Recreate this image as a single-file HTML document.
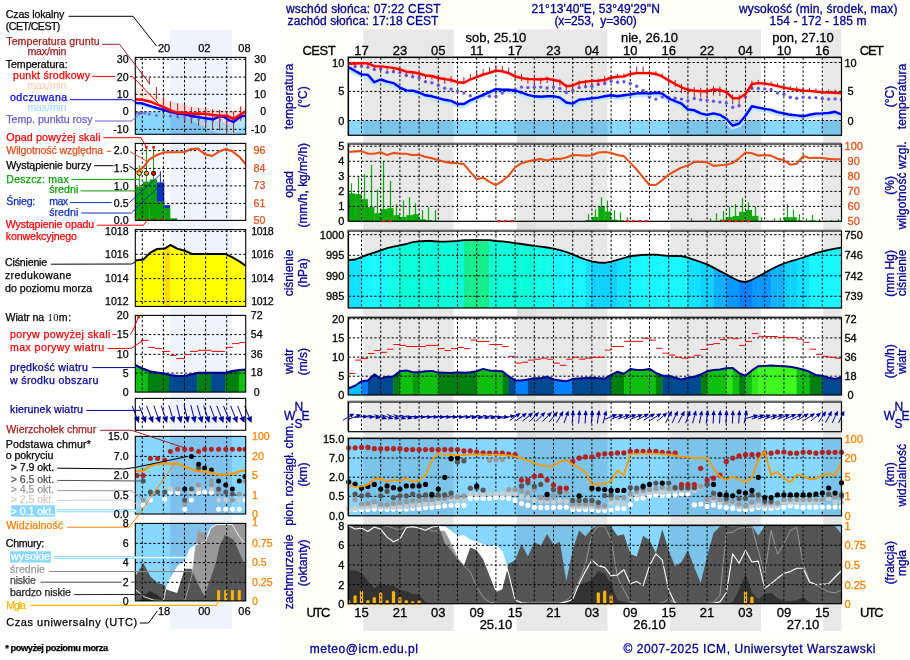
<!DOCTYPE html>
<html lang="pl"><head><meta charset="utf-8"><title>Meteogram ICM</title>
<style>html,body{margin:0;padding:0;background:#fffffa;}body{width:910px;height:660px;overflow:hidden}svg{display:block}</style></head>
<body>
<svg width="910" height="660" viewBox="0 0 910 660" font-family="'Liberation Sans', sans-serif">
<rect width="910" height="660" fill="#fffffa"/>
<rect x="0" y="0" width="278.3" height="660" fill="#ffffff"/>
<rect x="348.5" y="29.5" width="493" height="601.5" fill="#ffffff"/>
<rect x="363.3" y="29.5" width="90.3" height="601.5" fill="#e8e8e8"/>
<rect x="516.6" y="29.5" width="90.9" height="601.5" fill="#e8e8e8"/>
<rect x="670.2" y="29.5" width="90.8" height="601.5" fill="#e8e8e8"/>
<rect x="823.3" y="29.5" width="18.2" height="601.5" fill="#e8e8e8"/>
<rect x="517" y="136" width="19" height="306" fill="#000" opacity="0.03"/>
<rect x="348.5" y="57.5" width="493" height="77.8" fill="#ffffff"/>
<rect x="348.5" y="120.5" width="493" height="14.8" fill="#87d7ff"/>
<rect x="363.3" y="57.5" width="90.3" height="77.8" fill="#e8e8e8" style="mix-blend-mode:multiply"/>
<rect x="516.6" y="57.5" width="90.9" height="77.8" fill="#e8e8e8" style="mix-blend-mode:multiply"/>
<rect x="670.2" y="57.5" width="90.8" height="77.8" fill="#e8e8e8" style="mix-blend-mode:multiply"/>
<rect x="823.3" y="57.5" width="18.2" height="77.8" fill="#e8e8e8" style="mix-blend-mode:multiply"/>
<clipPath id="c1"><rect x="348.5" y="57.5" width="493" height="77.8"/></clipPath><g clip-path="url(#c1)">
<polyline points="348.7,63.7 355.1,63.5 361.5,63.2 367.9,63.3 374.3,66.2 380.7,66.4 387.1,67.1 393.5,67.9 399.9,69.5 406.3,71.7 412.7,72.2 419.1,73.5 425.5,75.5 431.9,76 438.3,78 444.7,79.1 451.1,80 457.5,82.2 463.9,82.7 470.3,79.5 476.7,77.1 483.1,74.6 489.5,72.8 495.9,70.6 502.3,71.3 508.7,73.1 515.1,76.4 521.5,78 527.9,79.1 534.3,79.1 540.7,79.5 547.1,78.6 553.5,80 559.9,81.3 566.3,86.2 572.7,85.5 579.1,82.6 585.5,81.8 591.9,80.9 598.3,80.7 604.7,80 611.1,77.7 617.5,76.8 623.9,76.4 630.3,74 636.7,73.1 643.1,73.1 649.5,73.1 655.9,74 662.3,76.4 668.7,80.4 675.1,84 681.5,87.3 687.9,89.8 694.3,90.7 700.7,91.3 707.1,91.3 713.5,89.5 719.9,90 726.3,92.2 732.7,98.2 739.1,98.2 745.5,94 751.9,84 758.3,83.1 764.7,83.6 771.1,84.6 777.5,86.2 783.9,87.6 790.3,88.9 796.7,89.8 803.1,90.7 809.5,90.9 815.9,91.6 822.3,92.2 828.7,92.5 835.1,92.7 841.5,93.4" fill="none" stroke="#ffd8d8" stroke-width="5" stroke-linejoin="round" opacity="0.7"/>
<polyline points="348.7,68.3 355.1,72 361.5,75.4 367.9,75.9 374.3,83.2 380.7,80.5 387.1,82.7 393.5,84.1 399.9,88.6 406.3,91.4 412.7,91.7 419.1,93.5 425.5,96.3 431.9,97.3 438.3,99.2 444.7,100.8 451.1,101.9 457.5,105 463.9,105 470.3,101.3 476.7,98.6 483.1,95.9 489.5,93.2 495.9,90.1 502.3,90.8 508.7,90.8 515.1,91.7 521.5,93.5 527.9,95.9 534.3,97.3 540.7,97.7 547.1,97.2 553.5,97.2 559.9,98.6 566.3,103.5 572.7,104.6 579.1,100.8 585.5,100.1 591.9,99.2 598.3,98.6 604.7,97.3 611.1,96.3 617.5,97.3 623.9,96.3 630.3,95.5 636.7,94.4 643.1,94.1 649.5,94.6 655.9,93.7 662.3,94.6 668.7,99.5 675.1,102.2 681.5,104.6 687.9,110.4 694.3,111.3 700.7,114.4 707.1,115.8 713.5,114.4 719.9,115.8 726.3,119.8 732.7,126.7 739.1,124.5 745.5,116.7 751.9,107.3 758.3,108.6 764.7,109.9 771.1,110.9 777.5,113.1 783.9,114.4 790.3,115.8 796.7,116.4 803.1,117.3 809.5,115.8 815.9,114.6 822.3,114.4 828.7,114 835.1,112.8 841.5,115.5" fill="none" stroke="#bfe6ff" stroke-width="5.5" stroke-linejoin="round"/>
</g>
<path d="M361.5 57.5V135.3M380.7 57.5V135.3M399.9 57.5V135.3M419.1 57.5V135.3M438.3 57.5V135.3M457.5 57.5V135.3M476.7 57.5V135.3M495.9 57.5V135.3M515.1 57.5V135.3M534.3 57.5V135.3M553.5 57.5V135.3M572.7 57.5V135.3M591.9 57.5V135.3M611.1 57.5V135.3M630.3 57.5V135.3M649.5 57.5V135.3M668.7 57.5V135.3M687.9 57.5V135.3M707.1 57.5V135.3M726.3 57.5V135.3M745.5 57.5V135.3M764.7 57.5V135.3M783.9 57.5V135.3M803.1 57.5V135.3M822.3 57.5V135.3M841.5 57.5V135.3M348.5 62.5H841.5M348.5 91.4H841.5M348.5 120.5H841.5" stroke="#000" stroke-width="1" stroke-dasharray="2.3 2" fill="none"/>
<clipPath id="c2"><rect x="348.5" y="57.5" width="493" height="77.8"/></clipPath><g clip-path="url(#c2)">
<circle cx="355.1" cy="66.8" r="1.7" fill="#6655dd"/>
<circle cx="361.5" cy="66.2" r="1.7" fill="#6655dd"/>
<circle cx="367.9" cy="67.3" r="1.7" fill="#6655dd"/>
<circle cx="374.3" cy="69.5" r="1.7" fill="#6655dd"/>
<circle cx="380.7" cy="69.1" r="1.7" fill="#6655dd"/>
<circle cx="387.1" cy="72.2" r="1.7" fill="#6655dd"/>
<circle cx="393.5" cy="71.7" r="1.7" fill="#6655dd"/>
<circle cx="399.9" cy="72.6" r="1.7" fill="#6655dd"/>
<circle cx="406.3" cy="75.5" r="1.7" fill="#6655dd"/>
<circle cx="412.7" cy="76.8" r="1.7" fill="#6655dd"/>
<circle cx="419.1" cy="78" r="1.7" fill="#6655dd"/>
<circle cx="425.5" cy="81.8" r="1.7" fill="#6655dd"/>
<circle cx="431.9" cy="82.7" r="1.7" fill="#6655dd"/>
<circle cx="438.3" cy="85.3" r="1.7" fill="#6655dd"/>
<circle cx="444.7" cy="88.2" r="1.7" fill="#6655dd"/>
<circle cx="451.1" cy="89.1" r="1.7" fill="#6655dd"/>
<circle cx="457.5" cy="91.3" r="1.7" fill="#6655dd"/>
<circle cx="463.9" cy="93.1" r="1.7" fill="#6655dd"/>
<circle cx="470.3" cy="95.8" r="1.7" fill="#6655dd"/>
<circle cx="476.7" cy="97.6" r="1.7" fill="#6655dd"/>
<circle cx="483.1" cy="95.3" r="1.7" fill="#6655dd"/>
<circle cx="489.5" cy="96.3" r="1.7" fill="#6655dd"/>
<circle cx="495.9" cy="96.3" r="1.7" fill="#6655dd"/>
<circle cx="502.3" cy="93.1" r="1.7" fill="#6655dd"/>
<circle cx="508.7" cy="90.4" r="1.7" fill="#6655dd"/>
<circle cx="515.1" cy="89.1" r="1.7" fill="#6655dd"/>
<circle cx="521.5" cy="87.1" r="1.7" fill="#6655dd"/>
<circle cx="527.9" cy="87.6" r="1.7" fill="#6655dd"/>
<circle cx="534.3" cy="87.3" r="1.7" fill="#6655dd"/>
<circle cx="540.7" cy="87.1" r="1.7" fill="#6655dd"/>
<circle cx="547.1" cy="88" r="1.7" fill="#6655dd"/>
<circle cx="553.5" cy="87.1" r="1.7" fill="#6655dd"/>
<circle cx="559.9" cy="88.5" r="1.7" fill="#6655dd"/>
<circle cx="566.3" cy="92.5" r="1.7" fill="#6655dd"/>
<circle cx="572.7" cy="90.4" r="1.7" fill="#6655dd"/>
<circle cx="579.1" cy="87.6" r="1.7" fill="#6655dd"/>
<circle cx="585.5" cy="86.7" r="1.7" fill="#6655dd"/>
<circle cx="591.9" cy="86.2" r="1.7" fill="#6655dd"/>
<circle cx="598.3" cy="84.4" r="1.7" fill="#6655dd"/>
<circle cx="604.7" cy="83.5" r="1.7" fill="#6655dd"/>
<circle cx="611.1" cy="81.3" r="1.7" fill="#6655dd"/>
<circle cx="617.5" cy="82.2" r="1.7" fill="#6655dd"/>
<circle cx="623.9" cy="81.7" r="1.7" fill="#6655dd"/>
<circle cx="630.3" cy="83.5" r="1.7" fill="#6655dd"/>
<circle cx="636.7" cy="86.2" r="1.7" fill="#6655dd"/>
<circle cx="643.1" cy="90.4" r="1.7" fill="#6655dd"/>
<circle cx="649.5" cy="97.2" r="1.7" fill="#6655dd"/>
<circle cx="655.9" cy="99.1" r="1.7" fill="#6655dd"/>
<circle cx="662.3" cy="97.1" r="1.7" fill="#6655dd"/>
<circle cx="668.7" cy="97.1" r="1.7" fill="#6655dd"/>
<circle cx="675.1" cy="98.2" r="1.7" fill="#6655dd"/>
<circle cx="681.5" cy="99.1" r="1.7" fill="#6655dd"/>
<circle cx="687.9" cy="100.7" r="1.7" fill="#6655dd"/>
<circle cx="694.3" cy="98.5" r="1.7" fill="#6655dd"/>
<circle cx="700.7" cy="99.8" r="1.7" fill="#6655dd"/>
<circle cx="707.1" cy="100.3" r="1.7" fill="#6655dd"/>
<circle cx="713.5" cy="101.2" r="1.7" fill="#6655dd"/>
<circle cx="719.9" cy="102.1" r="1.7" fill="#6655dd"/>
<circle cx="726.3" cy="103.1" r="1.7" fill="#6655dd"/>
<circle cx="732.7" cy="107.2" r="1.7" fill="#6655dd"/>
<circle cx="739.1" cy="105.8" r="1.7" fill="#6655dd"/>
<circle cx="745.5" cy="97.1" r="1.7" fill="#6655dd"/>
<circle cx="751.9" cy="88.2" r="1.7" fill="#6655dd"/>
<circle cx="758.3" cy="88.5" r="1.7" fill="#6655dd"/>
<circle cx="764.7" cy="88.9" r="1.7" fill="#6655dd"/>
<circle cx="771.1" cy="89.5" r="1.7" fill="#6655dd"/>
<circle cx="777.5" cy="93.1" r="1.7" fill="#6655dd"/>
<circle cx="783.9" cy="94.5" r="1.7" fill="#6655dd"/>
<circle cx="790.3" cy="97.2" r="1.7" fill="#6655dd"/>
<circle cx="796.7" cy="98.2" r="1.7" fill="#6655dd"/>
<circle cx="803.1" cy="97.1" r="1.7" fill="#6655dd"/>
<circle cx="809.5" cy="97.6" r="1.7" fill="#6655dd"/>
<circle cx="815.9" cy="97.6" r="1.7" fill="#6655dd"/>
<circle cx="822.3" cy="98.5" r="1.7" fill="#6655dd"/>
<circle cx="828.7" cy="99.1" r="1.7" fill="#6655dd"/>
<circle cx="835.1" cy="98.9" r="1.7" fill="#6655dd"/>
<circle cx="841.5" cy="99.8" r="1.7" fill="#6655dd"/>
<polyline points="348.7,67.3 355.1,71 361.5,74.4 367.9,74.9 374.3,82.2 380.7,79.5 387.1,81.7 393.5,83.1 399.9,87.6 406.3,90.4 412.7,90.7 419.1,92.5 425.5,95.3 431.9,96.3 438.3,98.2 444.7,99.8 451.1,100.9 457.5,104 463.9,104 470.3,100.3 476.7,97.6 483.1,94.9 489.5,92.2 495.9,89.1 502.3,89.8 508.7,89.8 515.1,90.7 521.5,92.5 527.9,94.9 534.3,96.3 540.7,96.7 547.1,96.2 553.5,96.2 559.9,97.6 566.3,102.5 572.7,103.6 579.1,99.8 585.5,99.1 591.9,98.2 598.3,97.6 604.7,96.3 611.1,95.3 617.5,96.3 623.9,95.3 630.3,94.5 636.7,93.4 643.1,93.1 649.5,93.6 655.9,92.7 662.3,93.6 668.7,98.5 675.1,101.2 681.5,103.6 687.9,109.4 694.3,110.3 700.7,113.4 707.1,114.8 713.5,113.4 719.9,114.8 726.3,118.8 732.7,125.7 739.1,123.5 745.5,115.7 751.9,106.3 758.3,107.6 764.7,108.9 771.1,109.9 777.5,112.1 783.9,113.4 790.3,114.8 796.7,115.4 803.1,116.3 809.5,114.8 815.9,113.6 822.3,113.4 828.7,113 835.1,111.8 841.5,114.5" fill="none" stroke="#0000ff" stroke-width="2.4" stroke-linejoin="round"/>
<polyline points="348.7,63.7 355.1,63.5 361.5,63.2 367.9,63.3 374.3,66.2 380.7,66.4 387.1,67.1 393.5,67.9 399.9,69.5 406.3,71.7 412.7,72.2 419.1,73.5 425.5,75.5 431.9,76 438.3,78 444.7,79.1 451.1,80 457.5,82.2 463.9,82.7 470.3,79.5 476.7,77.1 483.1,74.6 489.5,72.8 495.9,70.6 502.3,71.3 508.7,73.1 515.1,76.4 521.5,78 527.9,79.1 534.3,79.1 540.7,79.5 547.1,78.6 553.5,80 559.9,81.3 566.3,86.2 572.7,85.5 579.1,82.6 585.5,81.8 591.9,80.9 598.3,80.7 604.7,80 611.1,77.7 617.5,76.8 623.9,76.4 630.3,74 636.7,73.1 643.1,73.1 649.5,73.1 655.9,74 662.3,76.4 668.7,80.4 675.1,84 681.5,87.3 687.9,89.8 694.3,90.7 700.7,91.3 707.1,91.3 713.5,89.5 719.9,90 726.3,92.2 732.7,98.2 739.1,98.2 745.5,94 751.9,84 758.3,83.1 764.7,83.6 771.1,84.6 777.5,86.2 783.9,87.6 790.3,88.9 796.7,89.8 803.1,90.7 809.5,90.9 815.9,91.6 822.3,92.2 828.7,92.5 835.1,92.7 841.5,93.4" fill="none" stroke="#ff0000" stroke-width="2.4" stroke-linejoin="round"/>
<path d="M355.1 63.5V66.7M361.5 63.2V66.4M367.9 63.3V66.5M374.3 66.2V69.4M380.7 66.4V69.6M387.1 67.1V70.3M393.5 67.4V71.4M399.9 69V73M406.3 71.2V75.2M412.7 71.7V75.7M419.1 73V77M425.5 75V79M431.9 75.5V79.5M438.3 76V82.5M444.7 77.1V83.6M451.1 76V83M457.5 78.2V85.2M463.9 77.2V83.2M470.3 74V80M476.7 71.6V77.6M483.1 69.1V75.1M489.5 67.3V73.3M495.9 65.1V71.1M502.3 65.8V71.8M508.7 67.6V73.6M515.1 72.4V79.4M521.5 74V81M527.9 77.1V83.6M534.3 77.1V83.6M540.7 77.5V84M547.1 76.6V83.1M553.5 78V84.5M559.9 79.3V85.8M566.3 84.2V90.7M572.7 83.5V90M579.1 80.6V87.1M585.5 79.8V86.3M591.9 78.9V85.4M598.3 78.7V85.2M604.7 76V83M611.1 74.9V79.2M617.5 74V78.3M623.9 73.6V77.9M630.3 71.2V75.5M636.7 66.6V74.1M643.1 66.6V74.1M649.5 70.3V74.6M655.9 71.2V75.5M662.3 73.6V77.9M668.7 76.4V83.4M675.1 80V87M681.5 83.8V93.3M687.9 86.3V95.8M694.3 87.2V96.7M700.7 87.8V97.3M707.1 87.8V97.3M713.5 86V95.5M719.9 86.5V96M726.3 88.7V98.2M732.7 94.7V104.2M739.1 94.7V104.2M745.5 90.5V100M751.9 80.5V90M758.3 79.9V83.6M764.7 80.4V84.1M771.1 81.4V85.1M777.5 83V86.7M783.9 84.4V88.1M790.3 85.7V89.4M796.7 86.6V90.3M803.1 87.5V91.2M809.5 87.7V91.4M815.9 88.4V92.1M822.3 89V92.7M828.7 89.3V93M835.1 89.5V93.2M841.5 90.2V93.9" stroke="#b02020" stroke-width="1" fill="none"/>
</g>
<rect x="348.5" y="57.5" width="493" height="77.8" fill="none" stroke="#000" stroke-width="1.2"/>
<path d="M347.5 135.3V56.5H841.5" fill="none" stroke="#777" stroke-width="1" opacity="0.8"/>
<rect x="348.5" y="144" width="493" height="77.3" fill="#ffffff"/>
<rect x="363.3" y="144" width="90.3" height="77.3" fill="#e8e8e8"/>
<rect x="516.6" y="144" width="90.9" height="77.3" fill="#e8e8e8"/>
<rect x="670.2" y="144" width="90.8" height="77.3" fill="#e8e8e8"/>
<rect x="823.3" y="144" width="18.2" height="77.3" fill="#e8e8e8"/>
<clipPath id="c3"><rect x="348.5" y="144" width="493" height="77.3"/></clipPath><g clip-path="url(#c3)">
<rect x="348.7" y="193.3" width="6.5" height="28" fill="#0aaa0a"/>
<rect x="355.1" y="194.1" width="6.5" height="27.2" fill="#0aaa0a"/>
<rect x="361.5" y="199.2" width="6.5" height="22.1" fill="#0aaa0a"/>
<rect x="367.9" y="207" width="6.5" height="14.3" fill="#0aaa0a"/>
<rect x="374.3" y="213.2" width="6.5" height="8.1" fill="#0aaa0a"/>
<rect x="380.7" y="209.1" width="6.5" height="12.2" fill="#0aaa0a"/>
<rect x="387.1" y="208.2" width="6.5" height="13.1" fill="#0aaa0a"/>
<rect x="393.5" y="215.1" width="6.5" height="6.2" fill="#0aaa0a"/>
<rect x="399.9" y="216.9" width="6.5" height="4.4" fill="#0aaa0a"/>
<rect x="406.3" y="215.1" width="6.5" height="6.2" fill="#0aaa0a"/>
<rect x="412.7" y="214.2" width="6.5" height="7.1" fill="#0aaa0a"/>
<rect x="419.1" y="219.2" width="6.5" height="2.1" fill="#0aaa0a"/>
<rect x="425.5" y="220.1" width="6.5" height="1.2" fill="#0aaa0a"/>
<rect x="431.9" y="220.8" width="6.5" height="0.5" fill="#0aaa0a"/>
<rect x="585.5" y="220.1" width="6.5" height="1.2" fill="#0aaa0a"/>
<rect x="591.9" y="216.9" width="6.5" height="4.4" fill="#0aaa0a"/>
<rect x="598.3" y="206.4" width="6.5" height="14.9" fill="#0aaa0a"/>
<rect x="604.7" y="211.5" width="6.5" height="9.8" fill="#0aaa0a"/>
<rect x="611.1" y="219.6" width="6.5" height="1.7" fill="#0aaa0a"/>
<rect x="617.5" y="220.4" width="6.5" height="0.9" fill="#0aaa0a"/>
<rect x="719.9" y="219.6" width="6.5" height="1.7" fill="#0aaa0a"/>
<rect x="726.3" y="217.2" width="6.5" height="4.1" fill="#0aaa0a"/>
<rect x="732.7" y="216" width="6.5" height="5.3" fill="#0aaa0a"/>
<rect x="739.1" y="211.8" width="6.5" height="9.5" fill="#0aaa0a"/>
<rect x="745.5" y="210" width="6.5" height="11.3" fill="#0aaa0a"/>
<rect x="751.9" y="215.9" width="6.5" height="5.4" fill="#0aaa0a"/>
<rect x="783.9" y="217.2" width="6.5" height="4.1" fill="#0aaa0a"/>
<rect x="790.3" y="217.2" width="6.5" height="4.1" fill="#0aaa0a"/>
<rect x="796.7" y="220.4" width="6.5" height="0.9" fill="#0aaa0a"/>
<rect x="809.5" y="220.4" width="6.5" height="0.9" fill="#0aaa0a"/>
<path d="M351.5 221.3V183.3M358.5 221.3V176.4M364.5 221.3V174.3M371.5 221.3V165.1M377.5 221.3V189.4M383.5 221.3V161.3M390.5 221.3V181M396.5 221.3V204.2M403.5 221.3V200.4M409.5 221.3V197.3M415.5 221.3V203.3M422.5 221.3V210M428.5 221.3V207.3M435.5 221.3V210M588.5 221.3V214.2M595.5 221.3V209.4M601.5 221.3V197.3M607.5 221.3V200.4M614.5 221.3V210.3M620.5 221.3V212.4M627.5 221.3V217.2M691.5 221.3V218.3M710.5 221.3V218.3M716.5 221.3V213.2M723.5 221.3V210.9M729.5 221.3V206.9M735.5 221.3V204M742.5 221.3V198.2M748.5 221.3V202.2M755.5 221.3V206.4M761.5 221.3V217.2M767.5 221.3V220.4M774.5 221.3V218.3M780.5 221.3V217.8M787.5 221.3V204.2M793.5 221.3V209.4M799.5 221.3V214.2M806.5 221.3V218.3M812.5 221.3V215.1M819.5 221.3V219M831.5 221.3V220.1M838.5 221.3V219" stroke="#0cac0c" stroke-width="1.25" fill="none"/>
</g>
<path d="M361.5 144V221.3M380.7 144V221.3M399.9 144V221.3M419.1 144V221.3M438.3 144V221.3M457.5 144V221.3M476.7 144V221.3M495.9 144V221.3M515.1 144V221.3M534.3 144V221.3M553.5 144V221.3M572.7 144V221.3M591.9 144V221.3M611.1 144V221.3M630.3 144V221.3M649.5 144V221.3M668.7 144V221.3M687.9 144V221.3M707.1 144V221.3M726.3 144V221.3M745.5 144V221.3M764.7 144V221.3M783.9 144V221.3M803.1 144V221.3M822.3 144V221.3M841.5 144V221.3M348.5 146.2H841.5M348.5 161.3H841.5M348.5 176.3H841.5M348.5 191.4H841.5M348.5 206.4H841.5" stroke="#000" stroke-width="1" stroke-dasharray="2.3 2" fill="none"/>
<clipPath id="c4"><rect x="348.5" y="144" width="493" height="77.3"/></clipPath><g clip-path="url(#c4)">
<polyline points="348.7,152 355.1,151.4 361.5,151.1 367.9,153.8 374.3,153.8 380.7,152.3 387.1,155.1 393.5,152.9 399.9,153.8 406.3,153.8 412.7,155.1 419.1,154.7 425.5,156.9 431.9,158.3 438.3,160.1 444.7,161.9 451.1,162.9 457.5,163.2 463.9,164.1 470.3,171.9 476.7,179.2 483.1,177.7 489.5,181.9 495.9,185.2 502.3,181 508.7,175.5 515.1,167.4 521.5,163.2 527.9,161.4 534.3,160.1 540.7,158.9 547.1,160.5 553.5,158.7 559.9,158.9 566.3,157.4 572.7,155.1 579.1,155.2 585.5,155.6 591.9,155.2 598.3,152.5 604.7,152 611.1,152.9 617.5,155.1 623.9,156.1 630.3,162.9 636.7,169.6 643.1,177.4 649.5,185 655.9,185 662.3,180.1 668.7,174.6 675.1,171 681.5,167.4 687.9,165.6 694.3,161.9 700.7,161.9 707.1,162.3 713.5,165.9 719.9,165.2 726.3,164.7 732.7,162.9 739.1,158.3 745.5,152.5 751.9,153.2 758.3,155.6 764.7,155.1 771.1,155.6 777.5,158.7 783.9,160.1 790.3,164.7 796.7,163.8 803.1,156.1 809.5,158 815.9,157.8 822.3,158 828.7,158.9 835.1,159.2 841.5,159.2" fill="none" stroke="#e8501a" stroke-width="2.1" stroke-linejoin="round"/>
</g>
<rect x="348.5" y="144" width="493" height="77.3" fill="none" stroke="#000" stroke-width="1.2"/>
<path d="M347.5 221.3V143H841.5" fill="none" stroke="#777" stroke-width="1" opacity="0.8"/>
<rect x="382.4" y="220" width="3" height="2.2" fill="#e01818"/>
<rect x="388.8" y="220" width="3" height="2.2" fill="#e01818"/>
<rect x="497.6" y="220" width="3" height="2.2" fill="#e01818"/>
<rect x="504" y="220" width="3" height="2.2" fill="#e01818"/>
<rect x="510.4" y="220" width="3" height="2.2" fill="#e01818"/>
<rect x="625.6" y="220" width="3" height="2.2" fill="#e01818"/>
<rect x="632" y="220" width="3" height="2.2" fill="#e01818"/>
<rect x="638.4" y="220" width="3" height="2.2" fill="#e01818"/>
<rect x="644.8" y="220" width="3" height="2.2" fill="#e01818"/>
<rect x="721.6" y="220" width="3" height="2.2" fill="#e01818"/>
<rect x="728" y="220" width="3" height="2.2" fill="#e01818"/>
<rect x="734.4" y="220" width="3" height="2.2" fill="#e01818"/>
<rect x="740.8" y="220" width="3" height="2.2" fill="#e01818"/>
<rect x="747.2" y="220" width="3" height="2.2" fill="#e01818"/>
<rect x="348.5" y="231" width="493" height="77" fill="#ffffff"/>
<rect x="363.3" y="231" width="90.3" height="77" fill="#e8e8e8"/>
<rect x="516.6" y="231" width="90.9" height="77" fill="#e8e8e8"/>
<rect x="670.2" y="231" width="90.8" height="77" fill="#e8e8e8"/>
<rect x="823.3" y="231" width="18.2" height="77" fill="#e8e8e8"/>
<clipPath id="c5"><rect x="348.5" y="231" width="493" height="77"/></clipPath><g clip-path="url(#c5)">
<clipPath id="pp"><polygon points="348.5,308.0 348.7,260.2 355.1,259.5 361.5,257.1 367.9,254.7 374.3,252.6 380.7,250.4 387.1,248.2 393.5,246.6 399.9,245.3 406.3,244 412.7,242.2 419.1,241.3 425.5,241 431.9,241 438.3,241.7 444.7,241.7 451.1,241.3 457.5,240.8 463.9,240.1 470.3,240.1 476.7,239.9 483.1,240.1 489.5,240.2 495.9,241 502.3,241.3 508.7,242.1 515.1,243.1 521.5,244 527.9,245 534.3,245.9 540.7,246.6 547.1,247.5 553.5,248.6 559.9,250.2 566.3,252 572.7,254.4 579.1,257.1 585.5,259.5 591.9,261.3 598.3,262.5 604.7,262.9 611.1,261.6 617.5,259.8 623.9,258 630.3,256.2 636.7,255.5 643.1,254.9 649.5,254.7 655.9,254.7 662.3,255.3 668.7,255.8 675.1,256 681.5,256.2 687.9,257.6 694.3,259.8 700.7,262 707.1,264.4 713.5,267.6 719.9,271.1 726.3,274.3 732.7,278 739.1,281 745.5,282.1 751.9,279.8 758.3,276.5 764.7,272.9 771.1,269.3 777.5,266.2 783.9,263.5 790.3,261.3 796.7,259.5 803.1,257.5 809.5,255.3 815.9,253.1 822.3,251.3 828.7,249.9 835.1,248.6 841.5,247.7 841.5,308.0"/></clipPath><g clip-path="url(#pp)">
<rect x="348.7" y="231" width="6.7" height="77" fill="#10e2ff"/>
<rect x="355.1" y="231" width="6.7" height="77" fill="#10e2ff"/>
<rect x="361.5" y="231" width="6.7" height="77" fill="#18f6ff"/>
<rect x="367.9" y="231" width="6.7" height="77" fill="#18f6ff"/>
<rect x="374.3" y="231" width="6.7" height="77" fill="#18f6ff"/>
<rect x="380.7" y="231" width="6.7" height="77" fill="#18f6ff"/>
<rect x="387.1" y="231" width="6.7" height="77" fill="#10ffe8"/>
<rect x="393.5" y="231" width="6.7" height="77" fill="#10ffe8"/>
<rect x="399.9" y="231" width="6.7" height="77" fill="#08ffd8"/>
<rect x="406.3" y="231" width="6.7" height="77" fill="#08ffd8"/>
<rect x="412.7" y="231" width="6.7" height="77" fill="#08ffd8"/>
<rect x="419.1" y="231" width="6.7" height="77" fill="#08ffd8"/>
<rect x="425.5" y="231" width="6.7" height="77" fill="#08ffd8"/>
<rect x="431.9" y="231" width="6.7" height="77" fill="#08ffd8"/>
<rect x="438.3" y="231" width="6.7" height="77" fill="#08ffd8"/>
<rect x="444.7" y="231" width="6.7" height="77" fill="#08ffd8"/>
<rect x="451.1" y="231" width="6.7" height="77" fill="#08ffd8"/>
<rect x="457.5" y="231" width="6.7" height="77" fill="#08ffd8"/>
<rect x="463.9" y="231" width="6.7" height="77" fill="#14ee8c"/>
<rect x="470.3" y="231" width="6.7" height="77" fill="#14ee8c"/>
<rect x="476.7" y="231" width="6.7" height="77" fill="#14ee8c"/>
<rect x="483.1" y="231" width="6.7" height="77" fill="#14ee8c"/>
<rect x="489.5" y="231" width="6.7" height="77" fill="#08ffd8"/>
<rect x="495.9" y="231" width="6.7" height="77" fill="#08ffd8"/>
<rect x="502.3" y="231" width="6.7" height="77" fill="#08ffd8"/>
<rect x="508.7" y="231" width="6.7" height="77" fill="#08ffd8"/>
<rect x="515.1" y="231" width="6.7" height="77" fill="#08ffd8"/>
<rect x="521.5" y="231" width="6.7" height="77" fill="#08ffd8"/>
<rect x="527.9" y="231" width="6.7" height="77" fill="#08ffd8"/>
<rect x="534.3" y="231" width="6.7" height="77" fill="#10ffe8"/>
<rect x="540.7" y="231" width="6.7" height="77" fill="#10ffe8"/>
<rect x="547.1" y="231" width="6.7" height="77" fill="#10ffe8"/>
<rect x="553.5" y="231" width="6.7" height="77" fill="#18f6ff"/>
<rect x="559.9" y="231" width="6.7" height="77" fill="#18f6ff"/>
<rect x="566.3" y="231" width="6.7" height="77" fill="#18f6ff"/>
<rect x="572.7" y="231" width="6.7" height="77" fill="#18f6ff"/>
<rect x="579.1" y="231" width="6.7" height="77" fill="#18f6ff"/>
<rect x="585.5" y="231" width="6.7" height="77" fill="#10e2ff"/>
<rect x="591.9" y="231" width="6.7" height="77" fill="#10d2ff"/>
<rect x="598.3" y="231" width="6.7" height="77" fill="#10d2ff"/>
<rect x="604.7" y="231" width="6.7" height="77" fill="#10d2ff"/>
<rect x="611.1" y="231" width="6.7" height="77" fill="#10d2ff"/>
<rect x="617.5" y="231" width="6.7" height="77" fill="#10e2ff"/>
<rect x="623.9" y="231" width="6.7" height="77" fill="#10e2ff"/>
<rect x="630.3" y="231" width="6.7" height="77" fill="#18f6ff"/>
<rect x="636.7" y="231" width="6.7" height="77" fill="#18f6ff"/>
<rect x="643.1" y="231" width="6.7" height="77" fill="#18f6ff"/>
<rect x="649.5" y="231" width="6.7" height="77" fill="#18f6ff"/>
<rect x="655.9" y="231" width="6.7" height="77" fill="#18f6ff"/>
<rect x="662.3" y="231" width="6.7" height="77" fill="#18f6ff"/>
<rect x="668.7" y="231" width="6.7" height="77" fill="#18f6ff"/>
<rect x="675.1" y="231" width="6.7" height="77" fill="#18f6ff"/>
<rect x="681.5" y="231" width="6.7" height="77" fill="#18f6ff"/>
<rect x="687.9" y="231" width="6.7" height="77" fill="#10e2ff"/>
<rect x="694.3" y="231" width="6.7" height="77" fill="#10e2ff"/>
<rect x="700.7" y="231" width="6.7" height="77" fill="#10d2ff"/>
<rect x="707.1" y="231" width="6.7" height="77" fill="#10d2ff"/>
<rect x="713.5" y="231" width="6.7" height="77" fill="#10b2ff"/>
<rect x="719.9" y="231" width="6.7" height="77" fill="#10b2ff"/>
<rect x="726.3" y="231" width="6.7" height="77" fill="#0898ff"/>
<rect x="732.7" y="231" width="6.7" height="77" fill="#0898ff"/>
<rect x="739.1" y="231" width="6.7" height="77" fill="#0880ff"/>
<rect x="745.5" y="231" width="6.7" height="77" fill="#0880ff"/>
<rect x="751.9" y="231" width="6.7" height="77" fill="#0898ff"/>
<rect x="758.3" y="231" width="6.7" height="77" fill="#0898ff"/>
<rect x="764.7" y="231" width="6.7" height="77" fill="#0898ff"/>
<rect x="771.1" y="231" width="6.7" height="77" fill="#10b2ff"/>
<rect x="777.5" y="231" width="6.7" height="77" fill="#10b2ff"/>
<rect x="783.9" y="231" width="6.7" height="77" fill="#10d2ff"/>
<rect x="790.3" y="231" width="6.7" height="77" fill="#10d2ff"/>
<rect x="796.7" y="231" width="6.7" height="77" fill="#10e2ff"/>
<rect x="803.1" y="231" width="6.7" height="77" fill="#10e2ff"/>
<rect x="809.5" y="231" width="6.7" height="77" fill="#18f6ff"/>
<rect x="815.9" y="231" width="6.7" height="77" fill="#18f6ff"/>
<rect x="822.3" y="231" width="6.7" height="77" fill="#18f6ff"/>
<rect x="828.7" y="231" width="6.7" height="77" fill="#18f6ff"/>
<rect x="835.1" y="231" width="6.7" height="77" fill="#18f6ff"/>
<rect x="841.5" y="231" width="6.7" height="77" fill="#10ffe8"/>
</g>
</g>
<path d="M361.5 231V308M380.7 231V308M399.9 231V308M419.1 231V308M438.3 231V308M457.5 231V308M476.7 231V308M495.9 231V308M515.1 231V308M534.3 231V308M553.5 231V308M572.7 231V308M591.9 231V308M611.1 231V308M630.3 231V308M649.5 231V308M668.7 231V308M687.9 231V308M707.1 231V308M726.3 231V308M745.5 231V308M764.7 231V308M783.9 231V308M803.1 231V308M822.3 231V308M841.5 231V308M348.5 234.7H841.5M348.5 255.3H841.5M348.5 275.8H841.5M348.5 296.3H841.5" stroke="#000" stroke-width="1" stroke-dasharray="2.3 2" fill="none"/>
<clipPath id="c6"><rect x="348.5" y="231" width="493" height="77"/></clipPath><g clip-path="url(#c6)">
<polyline points="348.7,260.2 355.1,259.5 361.5,257.1 367.9,254.7 374.3,252.6 380.7,250.4 387.1,248.2 393.5,246.6 399.9,245.3 406.3,244 412.7,242.2 419.1,241.3 425.5,241 431.9,241 438.3,241.7 444.7,241.7 451.1,241.3 457.5,240.8 463.9,240.1 470.3,240.1 476.7,239.9 483.1,240.1 489.5,240.2 495.9,241 502.3,241.3 508.7,242.1 515.1,243.1 521.5,244 527.9,245 534.3,245.9 540.7,246.6 547.1,247.5 553.5,248.6 559.9,250.2 566.3,252 572.7,254.4 579.1,257.1 585.5,259.5 591.9,261.3 598.3,262.5 604.7,262.9 611.1,261.6 617.5,259.8 623.9,258 630.3,256.2 636.7,255.5 643.1,254.9 649.5,254.7 655.9,254.7 662.3,255.3 668.7,255.8 675.1,256 681.5,256.2 687.9,257.6 694.3,259.8 700.7,262 707.1,264.4 713.5,267.6 719.9,271.1 726.3,274.3 732.7,278 739.1,281 745.5,282.1 751.9,279.8 758.3,276.5 764.7,272.9 771.1,269.3 777.5,266.2 783.9,263.5 790.3,261.3 796.7,259.5 803.1,257.5 809.5,255.3 815.9,253.1 822.3,251.3 828.7,249.9 835.1,248.6 841.5,247.7" fill="none" stroke="#000" stroke-width="1.8" stroke-linejoin="round"/>
</g>
<rect x="348.5" y="231" width="493" height="77" fill="none" stroke="#000" stroke-width="1.2"/>
<path d="M347.5 308V230H841.5" fill="none" stroke="#777" stroke-width="1" opacity="0.8"/>
<rect x="348.5" y="317.7" width="493" height="77.3" fill="#ffffff"/>
<rect x="363.3" y="317.7" width="90.3" height="77.3" fill="#e8e8e8"/>
<rect x="516.6" y="317.7" width="90.9" height="77.3" fill="#e8e8e8"/>
<rect x="670.2" y="317.7" width="90.8" height="77.3" fill="#e8e8e8"/>
<rect x="823.3" y="317.7" width="18.2" height="77.3" fill="#e8e8e8"/>
<clipPath id="c7"><rect x="348.5" y="317.7" width="493" height="77.3"/></clipPath><g clip-path="url(#c7)">
<clipPath id="wp"><polygon points="348.5,395.0 348.7,388.2 355.1,385.8 361.5,381.3 367.9,380.4 374.3,374.4 380.7,378.6 387.1,376.7 393.5,376.4 399.9,371.3 406.3,370.4 412.7,372.2 419.1,372.2 425.5,371.3 431.9,370.9 438.3,372.6 444.7,372.8 451.1,373.1 457.5,372.2 463.9,372.8 470.3,372.2 476.7,371.3 483.1,368.9 489.5,370.4 495.9,370.9 502.3,371.3 508.7,376.2 515.1,380.4 521.5,380.4 527.9,379.5 534.3,378.2 540.7,378.2 547.1,376.7 553.5,379.5 559.9,380.4 566.3,381.3 572.7,379.1 579.1,378.6 585.5,378 591.9,377.7 598.3,378.2 604.7,378.6 611.1,374.9 617.5,371.7 623.9,373.7 630.3,369.1 636.7,370 643.1,370 649.5,368.9 655.9,372.8 662.3,375.5 668.7,375.8 675.1,377.7 681.5,379.5 687.9,377.7 694.3,376.7 700.7,374.4 707.1,371.3 713.5,369.9 719.9,369.5 726.3,368.2 732.7,368 739.1,373.1 745.5,375.8 751.9,370.4 758.3,366.2 764.7,365.9 771.1,365.5 777.5,365.9 783.9,366.2 790.3,366.8 796.7,368 803.1,369.5 809.5,371.8 815.9,374.9 822.3,375.8 828.7,377.7 835.1,378.9 841.5,377.3 841.5,395.0"/></clipPath><g clip-path="url(#wp)">
<rect x="348.7" y="317.7" width="13.1" height="77.3" fill="#00c0ff"/>
<rect x="361.5" y="317.7" width="6.7" height="77.3" fill="#0080ff"/>
<rect x="367.9" y="317.7" width="25.9" height="77.3" fill="#004890"/>
<rect x="393.5" y="317.7" width="6.7" height="77.3" fill="#008010"/>
<rect x="399.9" y="317.7" width="13.1" height="77.3" fill="#10c010"/>
<rect x="412.7" y="317.7" width="6.7" height="77.3" fill="#009c10"/>
<rect x="419.1" y="317.7" width="19.5" height="77.3" fill="#10c010"/>
<rect x="438.3" y="317.7" width="38.7" height="77.3" fill="#008010"/>
<rect x="476.7" y="317.7" width="25.9" height="77.3" fill="#10c010"/>
<rect x="502.3" y="317.7" width="6.7" height="77.3" fill="#008010"/>
<rect x="508.7" y="317.7" width="6.7" height="77.3" fill="#004890"/>
<rect x="515.1" y="317.7" width="13.1" height="77.3" fill="#0080ff"/>
<rect x="527.9" y="317.7" width="25.9" height="77.3" fill="#004890"/>
<rect x="553.5" y="317.7" width="19.5" height="77.3" fill="#0080ff"/>
<rect x="572.7" y="317.7" width="38.7" height="77.3" fill="#004890"/>
<rect x="611.1" y="317.7" width="13.1" height="77.3" fill="#008010"/>
<rect x="623.9" y="317.7" width="32.3" height="77.3" fill="#10c010"/>
<rect x="655.9" y="317.7" width="6.7" height="77.3" fill="#008010"/>
<rect x="662.3" y="317.7" width="38.7" height="77.3" fill="#004890"/>
<rect x="700.7" y="317.7" width="6.7" height="77.3" fill="#008010"/>
<rect x="707.1" y="317.7" width="19.5" height="77.3" fill="#10c010"/>
<rect x="726.3" y="317.7" width="6.7" height="77.3" fill="#30e818"/>
<rect x="732.7" y="317.7" width="6.7" height="77.3" fill="#10c010"/>
<rect x="739.1" y="317.7" width="6.7" height="77.3" fill="#008010"/>
<rect x="745.5" y="317.7" width="6.7" height="77.3" fill="#10c010"/>
<rect x="751.9" y="317.7" width="6.7" height="77.3" fill="#30e818"/>
<rect x="758.3" y="317.7" width="38.7" height="77.3" fill="#40f820"/>
<rect x="796.7" y="317.7" width="13.1" height="77.3" fill="#10c010"/>
<rect x="809.5" y="317.7" width="13.1" height="77.3" fill="#008010"/>
<rect x="822.3" y="317.7" width="20.1" height="77.3" fill="#004890"/>
</g>
</g>
<path d="M361.5 317.7V395M380.7 317.7V395M399.9 317.7V395M419.1 317.7V395M438.3 317.7V395M457.5 317.7V395M476.7 317.7V395M495.9 317.7V395M515.1 317.7V395M534.3 317.7V395M553.5 317.7V395M572.7 317.7V395M591.9 317.7V395M611.1 317.7V395M630.3 317.7V395M649.5 317.7V395M668.7 317.7V395M687.9 317.7V395M707.1 317.7V395M726.3 317.7V395M745.5 317.7V395M764.7 317.7V395M783.9 317.7V395M803.1 317.7V395M822.3 317.7V395M841.5 317.7V395M348.5 318.8H841.5M348.5 337.9H841.5M348.5 357.1H841.5M348.5 376.2H841.5" stroke="#000" stroke-width="1" stroke-dasharray="2.3 2" fill="none"/>
<clipPath id="c8"><rect x="348.5" y="317.7" width="493" height="77.3"/></clipPath><g clip-path="url(#c8)">
<polyline points="348.7,388.2 355.1,385.8 361.5,381.3 367.9,380.4 374.3,374.4 380.7,378.6 387.1,376.7 393.5,376.4 399.9,371.3 406.3,370.4 412.7,372.2 419.1,372.2 425.5,371.3 431.9,370.9 438.3,372.6 444.7,372.8 451.1,373.1 457.5,372.2 463.9,372.8 470.3,372.2 476.7,371.3 483.1,368.9 489.5,370.4 495.9,370.9 502.3,371.3 508.7,376.2 515.1,380.4 521.5,380.4 527.9,379.5 534.3,378.2 540.7,378.2 547.1,376.7 553.5,379.5 559.9,380.4 566.3,381.3 572.7,379.1 579.1,378.6 585.5,378 591.9,377.7 598.3,378.2 604.7,378.6 611.1,374.9 617.5,371.7 623.9,373.7 630.3,369.1 636.7,370 643.1,370 649.5,368.9 655.9,372.8 662.3,375.5 668.7,375.8 675.1,377.7 681.5,379.5 687.9,377.7 694.3,376.7 700.7,374.4 707.1,371.3 713.5,369.9 719.9,369.5 726.3,368.2 732.7,368 739.1,373.1 745.5,375.8 751.9,370.4 758.3,366.2 764.7,365.9 771.1,365.5 777.5,365.9 783.9,366.2 790.3,366.8 796.7,368 803.1,369.5 809.5,371.8 815.9,374.9 822.3,375.8 828.7,377.7 835.1,378.9 841.5,377.3" fill="none" stroke="#000090" stroke-width="2" stroke-linejoin="round"/>
<path d="M348.7 373.5h6.4M355.1 360.1h6.4M361.5 358.6h6.4M367.9 353.5h6.4M374.3 350.5h6.4M380.7 352.3h6.4M387.1 349.2h6.4M393.5 344.5h6.4M399.9 345.4h6.4M406.3 346.5h6.4M412.7 346.5h6.4M419.1 346.5h6.4M425.5 345.4h6.4M431.9 345.4h6.4M438.3 348.6h6.4M444.7 350.5h6.4M451.1 348.6h6.4M457.5 347.4h6.4M463.9 348.6h6.4M470.3 340.1h6.4M476.7 341.4h6.4M483.1 341.4h6.4M489.5 344.5h6.4M495.9 344.5h6.4M502.3 346.5h6.4M508.7 356.3h6.4M515.1 363.1h6.4M521.5 362.2h6.4M527.9 360.1h6.4M534.3 359.2h6.4M540.7 358.2h6.4M547.1 359.2h6.4M553.5 363.1h6.4M559.9 365.3h6.4M566.3 359.2h6.4M572.7 357.3h6.4M579.1 359.2h6.4M585.5 358.2h6.4M591.9 357.3h6.4M598.3 357.3h6.4M604.7 350.1h6.4M611.1 346.5h6.4M617.5 346.5h6.4M623.9 341.4h6.4M630.3 341.4h6.4M636.7 341.4h6.4M643.1 338.3h6.4M649.5 340.1h6.4M655.9 348.3h6.4M662.3 353.2h6.4M668.7 355h6.4M675.1 357.3h6.4M681.5 358.2h6.4M687.9 357.3h6.4M694.3 355.3h6.4M700.7 349.5h6.4M707.1 344.5h6.4M713.5 343.6h6.4M719.9 339.6h6.4M726.3 337.8h6.4M732.7 338.7h6.4M739.1 345.4h6.4M745.5 341.4h6.4M751.9 333.6h6.4M758.3 336.3h6.4M764.7 336.5h6.4M771.1 336.5h6.4M777.5 337.4h6.4M783.9 337.4h6.4M790.3 337.4h6.4M796.7 339.2h6.4M803.1 342.3h6.4M809.5 349.2h6.4M815.9 354.4h6.4M822.3 356.3h6.4M828.7 357.3h6.4M835.1 358.2h6.4" stroke="#ff0000" stroke-width="1" fill="none"/>
</g>
<rect x="348.5" y="317.7" width="493" height="77.3" fill="none" stroke="#000" stroke-width="1.2"/>
<path d="M347.5 395V316.7H841.5" fill="none" stroke="#777" stroke-width="1" opacity="0.8"/>
<rect x="348.5" y="402" width="493" height="29.7" fill="#ffffff"/>
<rect x="363.3" y="402" width="90.3" height="29.7" fill="#e8e8e8"/>
<rect x="516.6" y="402" width="90.9" height="29.7" fill="#e8e8e8"/>
<rect x="670.2" y="402" width="90.8" height="29.7" fill="#e8e8e8"/>
<rect x="823.3" y="402" width="18.2" height="29.7" fill="#e8e8e8"/>
<path d="M361.5 402V431.7M380.7 402V431.7M399.9 402V431.7M419.1 402V431.7M438.3 402V431.7M457.5 402V431.7M476.7 402V431.7M495.9 402V431.7M515.1 402V431.7M534.3 402V431.7M553.5 402V431.7M572.7 402V431.7M591.9 402V431.7M611.1 402V431.7M630.3 402V431.7M649.5 402V431.7M668.7 402V431.7M687.9 402V431.7M707.1 402V431.7M726.3 402V431.7M745.5 402V431.7M764.7 402V431.7M783.9 402V431.7M803.1 402V431.7M822.3 402V431.7M841.5 402V431.7" stroke="#000" stroke-width="1" stroke-dasharray="2.3 2" fill="none"/>
<path d="M342.9 420.2L350.2 415.9" stroke="#0000a0" stroke-width="1" fill="none"/><polygon points="354.5,413.4 351.3,417.8 349.1,414" fill="#0000a0"/>
<path d="M348.8 419.1L356.7 416.2" stroke="#0000a0" stroke-width="1" fill="none"/><polygon points="361.4,414.5 357.5,418.3 356,414.1" fill="#0000a0"/>
<path d="M354.8 417.4L363.2 416.6" stroke="#0000a0" stroke-width="1" fill="none"/><polygon points="368.2,416.2 363.4,418.8 363.1,414.5" fill="#0000a0"/>
<path d="M361.2 416.6L369.6 416.9" stroke="#0000a0" stroke-width="1" fill="none"/><polygon points="374.6,417 369.6,419.1 369.7,414.7" fill="#0000a0"/>
<path d="M367.7 415.6L376 417.1" stroke="#0000a0" stroke-width="1" fill="none"/><polygon points="380.9,418 375.6,419.3 376.4,414.9" fill="#0000a0"/>
<path d="M374.3 414.7L382.4 417.3" stroke="#0000a0" stroke-width="1" fill="none"/><polygon points="387.1,418.9 381.7,419.4 383,415.2" fill="#0000a0"/>
<path d="M380.8 414.5L388.7 417.4" stroke="#0000a0" stroke-width="1" fill="none"/><polygon points="393.4,419.1 388,419.5 389.5,415.3" fill="#0000a0"/>
<path d="M387.2 414.5L395.1 417.4" stroke="#0000a0" stroke-width="1" fill="none"/><polygon points="399.8,419.1 394.4,419.5 395.9,415.3" fill="#0000a0"/>
<path d="M393.5 414.7L401.6 417.3" stroke="#0000a0" stroke-width="1" fill="none"/><polygon points="406.3,418.9 400.9,419.4 402.2,415.2" fill="#0000a0"/>
<path d="M399.8 415.1L408 417.3" stroke="#0000a0" stroke-width="1" fill="none"/><polygon points="412.8,418.5 407.4,419.4 408.6,415.1" fill="#0000a0"/>
<path d="M406 415.9L414.4 417" stroke="#0000a0" stroke-width="1" fill="none"/><polygon points="419.4,417.7 414.1,419.2 414.7,414.9" fill="#0000a0"/>
<path d="M412.4 416.4L420.8 416.9" stroke="#0000a0" stroke-width="1" fill="none"/><polygon points="425.8,417.2 420.7,419.1 421,414.7" fill="#0000a0"/>
<path d="M418.8 416.4L427.2 416.9" stroke="#0000a0" stroke-width="1" fill="none"/><polygon points="432.2,417.2 427.1,419.1 427.4,414.7" fill="#0000a0"/>
<path d="M425.2 416.4L433.6 416.9" stroke="#0000a0" stroke-width="1" fill="none"/><polygon points="438.6,417.2 433.5,419.1 433.8,414.7" fill="#0000a0"/>
<path d="M431.6 416.4L440 416.9" stroke="#0000a0" stroke-width="1" fill="none"/><polygon points="445,417.2 439.9,419.1 440.2,414.7" fill="#0000a0"/>
<path d="M438 416.4L446.4 416.9" stroke="#0000a0" stroke-width="1" fill="none"/><polygon points="451.4,417.2 446.3,419.1 446.6,414.7" fill="#0000a0"/>
<path d="M444.4 416.4L452.8 416.9" stroke="#0000a0" stroke-width="1" fill="none"/><polygon points="457.8,417.2 452.7,419.1 453,414.7" fill="#0000a0"/>
<path d="M450.8 416.4L459.2 416.9" stroke="#0000a0" stroke-width="1" fill="none"/><polygon points="464.2,417.2 459.1,419.1 459.4,414.7" fill="#0000a0"/>
<path d="M457.2 416.2L465.6 417" stroke="#0000a0" stroke-width="1" fill="none"/><polygon points="470.6,417.4 465.5,419.1 465.8,414.8" fill="#0000a0"/>
<path d="M463.6 415.9L472 417" stroke="#0000a0" stroke-width="1" fill="none"/><polygon points="477,417.7 471.7,419.2 472.3,414.9" fill="#0000a0"/>
<path d="M470.1 415.6L478.4 417.1" stroke="#0000a0" stroke-width="1" fill="none"/><polygon points="483.3,418 478,419.3 478.8,414.9" fill="#0000a0"/>
<path d="M476.5 415.3L484.8 417.2" stroke="#0000a0" stroke-width="1" fill="none"/><polygon points="489.7,418.3 484.3,419.3 485.3,415.1" fill="#0000a0"/>
<path d="M482.9 415.3L491.2 417.2" stroke="#0000a0" stroke-width="1" fill="none"/><polygon points="496.1,418.3 490.7,419.3 491.7,415.1" fill="#0000a0"/>
<path d="M489.3 415.6L497.6 417.1" stroke="#0000a0" stroke-width="1" fill="none"/><polygon points="502.5,418 497.2,419.3 498,414.9" fill="#0000a0"/>
<path d="M495.6 416.4L504 416.9" stroke="#0000a0" stroke-width="1" fill="none"/><polygon points="509,417.2 503.9,419.1 504.2,414.7" fill="#0000a0"/>
<path d="M502.1 418.2L510.4 416.4" stroke="#0000a0" stroke-width="1" fill="none"/><polygon points="515.3,415.4 510.9,418.6 510,414.3" fill="#0000a0"/>
<path d="M509.6 420.7L516.5 415.8" stroke="#0000a0" stroke-width="1" fill="none"/><polygon points="520.6,412.9 517.8,417.6 515.3,414" fill="#0000a0"/>
<path d="M516 420.7L522.9 415.8" stroke="#0000a0" stroke-width="1" fill="none"/><polygon points="527,412.9 524.2,417.6 521.7,414" fill="#0000a0"/>
<path d="M522.6 421L529.3 415.7" stroke="#0000a0" stroke-width="1" fill="none"/><polygon points="533.2,412.6 530.6,417.5 527.9,414" fill="#0000a0"/>
<path d="M529.5 421.6L535.5 415.6" stroke="#0000a0" stroke-width="1" fill="none"/><polygon points="539.1,412 537.1,417.1 534,414" fill="#0000a0"/>
<path d="M535.9 421.6L541.9 415.6" stroke="#0000a0" stroke-width="1" fill="none"/><polygon points="545.5,412 543.5,417.1 540.4,414" fill="#0000a0"/>
<path d="M542.3 421.6L548.3 415.6" stroke="#0000a0" stroke-width="1" fill="none"/><polygon points="551.9,412 549.9,417.1 546.8,414" fill="#0000a0"/>
<path d="M549.2 422L554.6 415.5" stroke="#0000a0" stroke-width="1" fill="none"/><polygon points="557.8,411.6 556.3,416.9 552.9,414" fill="#0000a0"/>
<path d="M556.5 422.6L560.8 415.3" stroke="#0000a0" stroke-width="1" fill="none"/><polygon points="563.3,411 562.7,416.4 558.9,414.2" fill="#0000a0"/>
<path d="M564 423.1L566.9 415.2" stroke="#0000a0" stroke-width="1" fill="none"/><polygon points="568.6,410.5 569,415.9 564.8,414.4" fill="#0000a0"/>
<path d="M572.1 423.5L572.9 415.1" stroke="#0000a0" stroke-width="1" fill="none"/><polygon points="573.3,410.1 575,415.2 570.7,414.9" fill="#0000a0"/>
<path d="M578.7 423.5L579.2 415.1" stroke="#0000a0" stroke-width="1" fill="none"/><polygon points="579.5,410.1 581.4,415.2 577,414.9" fill="#0000a0"/>
<path d="M585.1 423.5L585.6 415.1" stroke="#0000a0" stroke-width="1" fill="none"/><polygon points="585.9,410.1 587.8,415.2 583.4,414.9" fill="#0000a0"/>
<path d="M591.3 423.5L592.1 415.1" stroke="#0000a0" stroke-width="1" fill="none"/><polygon points="592.5,410.1 594.2,415.2 589.9,414.9" fill="#0000a0"/>
<path d="M597.4 423.5L598.5 415.1" stroke="#0000a0" stroke-width="1" fill="none"/><polygon points="599.2,410.1 600.7,415.4 596.4,414.8" fill="#0000a0"/>
<path d="M603 423.3L605.2 415.1" stroke="#0000a0" stroke-width="1" fill="none"/><polygon points="606.4,410.3 607.3,415.7 603,414.5" fill="#0000a0"/>
<path d="M604.8 419.3L612.7 416.1" stroke="#0000a0" stroke-width="1" fill="none"/><polygon points="617.4,414.3 613.5,418.2 611.9,414.1" fill="#0000a0"/>
<path d="M611.2 419.1L619.1 416.2" stroke="#0000a0" stroke-width="1" fill="none"/><polygon points="623.8,414.5 619.9,418.3 618.4,414.1" fill="#0000a0"/>
<path d="M617.6 419.1L625.5 416.2" stroke="#0000a0" stroke-width="1" fill="none"/><polygon points="630.2,414.5 626.3,418.3 624.8,414.1" fill="#0000a0"/>
<path d="M624 419.1L631.9 416.2" stroke="#0000a0" stroke-width="1" fill="none"/><polygon points="636.6,414.5 632.7,418.3 631.2,414.1" fill="#0000a0"/>
<path d="M630.4 419.3L638.3 416.1" stroke="#0000a0" stroke-width="1" fill="none"/><polygon points="643,414.3 639.1,418.2 637.5,414.1" fill="#0000a0"/>
<path d="M637.1 420L644.6 416" stroke="#0000a0" stroke-width="1" fill="none"/><polygon points="649.1,413.6 645.7,417.9 643.6,414" fill="#0000a0"/>
<path d="M643.7 420.2L651 415.9" stroke="#0000a0" stroke-width="1" fill="none"/><polygon points="655.3,413.4 652.1,417.8 649.9,414" fill="#0000a0"/>
<path d="M650.2 420.4L657.4 415.9" stroke="#0000a0" stroke-width="1" fill="none"/><polygon points="661.6,413.2 658.5,417.7 656.2,414" fill="#0000a0"/>
<path d="M657.1 421.1L663.6 415.7" stroke="#0000a0" stroke-width="1" fill="none"/><polygon points="667.5,412.5 665.1,417.4 662.2,414" fill="#0000a0"/>
<path d="M665.5 422.8L669.5 415.3" stroke="#0000a0" stroke-width="1" fill="none"/><polygon points="671.9,410.8 671.5,416.3 667.6,414.2" fill="#0000a0"/>
<path d="M672.2 422.9L675.8 415.2" stroke="#0000a0" stroke-width="1" fill="none"/><polygon points="678,410.7 677.8,416.1 673.8,414.3" fill="#0000a0"/>
<path d="M678.3 422.8L682.3 415.3" stroke="#0000a0" stroke-width="1" fill="none"/><polygon points="684.7,410.8 684.3,416.3 680.4,414.2" fill="#0000a0"/>
<path d="M685.6 423.1L688.5 415.2" stroke="#0000a0" stroke-width="1" fill="none"/><polygon points="690.2,410.5 690.6,415.9 686.4,414.4" fill="#0000a0"/>
<path d="M692.6 423.3L694.8 415.1" stroke="#0000a0" stroke-width="1" fill="none"/><polygon points="696,410.3 696.9,415.7 692.6,414.5" fill="#0000a0"/>
<path d="M699.3 423.4L701.1 415.1" stroke="#0000a0" stroke-width="1" fill="none"/><polygon points="702.1,410.2 703.2,415.5 698.9,414.6" fill="#0000a0"/>
<path d="M706.2 423.5L707.3 415.1" stroke="#0000a0" stroke-width="1" fill="none"/><polygon points="708,410.1 709.5,415.4 705.2,414.8" fill="#0000a0"/>
<path d="M713.1 423.5L713.6 415.1" stroke="#0000a0" stroke-width="1" fill="none"/><polygon points="713.9,410.1 715.8,415.2 711.4,414.9" fill="#0000a0"/>
<path d="M719.5 423.5L720 415.1" stroke="#0000a0" stroke-width="1" fill="none"/><polygon points="720.3,410.1 722.2,415.2 717.8,414.9" fill="#0000a0"/>
<path d="M725.9 423.5L726.4 415.1" stroke="#0000a0" stroke-width="1" fill="none"/><polygon points="726.7,410.1 728.6,415.2 724.2,414.9" fill="#0000a0"/>
<path d="M732.3 423.5L732.8 415.1" stroke="#0000a0" stroke-width="1" fill="none"/><polygon points="733.1,410.1 735,415.2 730.6,414.9" fill="#0000a0"/>
<path d="M738.7 423.5L739.2 415.1" stroke="#0000a0" stroke-width="1" fill="none"/><polygon points="739.5,410.1 741.4,415.2 737,414.9" fill="#0000a0"/>
<path d="M744.1 423.4L745.9 415.1" stroke="#0000a0" stroke-width="1" fill="none"/><polygon points="746.9,410.2 748,415.5 743.7,414.6" fill="#0000a0"/>
<path d="M745.4 418.5L753.6 416.3" stroke="#0000a0" stroke-width="1" fill="none"/><polygon points="758.4,415.1 754.2,418.5 753,414.2" fill="#0000a0"/>
<path d="M751.9 418.9L760 416.3" stroke="#0000a0" stroke-width="1" fill="none"/><polygon points="764.7,414.7 760.6,418.4 759.3,414.2" fill="#0000a0"/>
<path d="M758.3 418.9L766.4 416.3" stroke="#0000a0" stroke-width="1" fill="none"/><polygon points="771.1,414.7 767,418.4 765.7,414.2" fill="#0000a0"/>
<path d="M764.7 418.9L772.8 416.3" stroke="#0000a0" stroke-width="1" fill="none"/><polygon points="777.5,414.7 773.4,418.4 772.1,414.2" fill="#0000a0"/>
<path d="M771.2 419.3L779.1 416.1" stroke="#0000a0" stroke-width="1" fill="none"/><polygon points="783.8,414.3 779.9,418.2 778.3,414.1" fill="#0000a0"/>
<path d="M777.6 419.3L785.5 416.1" stroke="#0000a0" stroke-width="1" fill="none"/><polygon points="790.2,414.3 786.3,418.2 784.7,414.1" fill="#0000a0"/>
<path d="M784.1 419.5L791.9 416.1" stroke="#0000a0" stroke-width="1" fill="none"/><polygon points="796.5,414.1 792.8,418.1 791,414.1" fill="#0000a0"/>
<path d="M790.7 420L798.2 416" stroke="#0000a0" stroke-width="1" fill="none"/><polygon points="802.7,413.6 799.3,417.9 797.2,414" fill="#0000a0"/>
<path d="M797.3 420.2L804.6 415.9" stroke="#0000a0" stroke-width="1" fill="none"/><polygon points="808.9,413.4 805.7,417.8 803.5,414" fill="#0000a0"/>
<path d="M803.8 420.4L811 415.9" stroke="#0000a0" stroke-width="1" fill="none"/><polygon points="815.2,413.2 812.1,417.7 809.8,414" fill="#0000a0"/>
<path d="M810.7 421.1L817.2 415.7" stroke="#0000a0" stroke-width="1" fill="none"/><polygon points="821.1,412.5 818.7,417.4 815.8,414" fill="#0000a0"/>
<path d="M818.4 422.3L823.3 415.4" stroke="#0000a0" stroke-width="1" fill="none"/><polygon points="826.2,411.3 825.1,416.6 821.5,414.1" fill="#0000a0"/>
<path d="M825.5 422.8L829.5 415.3" stroke="#0000a0" stroke-width="1" fill="none"/><polygon points="831.9,410.8 831.5,416.3 827.6,414.2" fill="#0000a0"/>
<path d="M832.2 422.9L835.8 415.2" stroke="#0000a0" stroke-width="1" fill="none"/><polygon points="838,410.7 837.8,416.1 833.8,414.3" fill="#0000a0"/>
<path d="M838.6 422.9L842.2 415.2" stroke="#0000a0" stroke-width="1" fill="none"/><polygon points="844.4,410.7 844.2,416.1 840.2,414.3" fill="#0000a0"/>
<rect x="348.5" y="402" width="493" height="29.7" fill="none" stroke="#000" stroke-width="1.2"/>
<path d="M347.5 431.7V401H841.5" fill="none" stroke="#777" stroke-width="1" opacity="0.8"/>
<rect x="348.5" y="438.5" width="493" height="77.3" fill="#87d7ff"/>
<rect x="363.3" y="438.5" width="90.3" height="77.3" fill="#e8e8e8" style="mix-blend-mode:multiply"/>
<rect x="516.6" y="438.5" width="90.9" height="77.3" fill="#e8e8e8" style="mix-blend-mode:multiply"/>
<rect x="670.2" y="438.5" width="90.8" height="77.3" fill="#e8e8e8" style="mix-blend-mode:multiply"/>
<rect x="823.3" y="438.5" width="18.2" height="77.3" fill="#e8e8e8" style="mix-blend-mode:multiply"/>
<path d="M361.5 438.5V515.8M380.7 438.5V515.8M399.9 438.5V515.8M419.1 438.5V515.8M438.3 438.5V515.8M457.5 438.5V515.8M476.7 438.5V515.8M495.9 438.5V515.8M515.1 438.5V515.8M534.3 438.5V515.8M553.5 438.5V515.8M572.7 438.5V515.8M591.9 438.5V515.8M611.1 438.5V515.8M630.3 438.5V515.8M649.5 438.5V515.8M668.7 438.5V515.8M687.9 438.5V515.8M707.1 438.5V515.8M726.3 438.5V515.8M745.5 438.5V515.8M764.7 438.5V515.8M783.9 438.5V515.8M803.1 438.5V515.8M822.3 438.5V515.8M841.5 438.5V515.8M348.5 458H841.5M348.5 477.2H841.5M348.5 496.3H841.5" stroke="#000" stroke-width="1" stroke-dasharray="2.3 2" fill="none"/>
<clipPath id="c9"><rect x="345.5" y="435.5" width="499" height="83.3"/></clipPath><g clip-path="url(#c9)">
<circle cx="348.7" cy="509.4" r="2.6" fill="#ffffff"/>
<circle cx="355.1" cy="509.4" r="2.6" fill="#ffffff"/>
<circle cx="361.5" cy="509.4" r="2.6" fill="#ffffff"/>
<circle cx="367.9" cy="509.4" r="2.6" fill="#ffffff"/>
<circle cx="374.3" cy="509.1" r="2.6" fill="#ffffff"/>
<circle cx="380.7" cy="509.1" r="2.6" fill="#ffffff"/>
<circle cx="387.1" cy="509.1" r="2.6" fill="#ffffff"/>
<circle cx="393.5" cy="509.1" r="2.6" fill="#ffffff"/>
<circle cx="399.9" cy="509.1" r="2.6" fill="#ffffff"/>
<circle cx="406.3" cy="509.1" r="2.6" fill="#ffffff"/>
<circle cx="412.7" cy="508.5" r="2.6" fill="#ffffff"/>
<circle cx="419.1" cy="508.5" r="2.6" fill="#ffffff"/>
<circle cx="425.5" cy="507.6" r="2.6" fill="#ffffff"/>
<circle cx="431.9" cy="507.3" r="2.6" fill="#ffffff"/>
<circle cx="438.3" cy="506.7" r="2.6" fill="#ffffff"/>
<circle cx="444.7" cy="505.8" r="2.6" fill="#ffffff"/>
<circle cx="451.1" cy="505.3" r="2.6" fill="#ffffff"/>
<circle cx="457.5" cy="505.3" r="2.6" fill="#ffffff"/>
<circle cx="463.9" cy="505.4" r="2.6" fill="#ffffff"/>
<circle cx="470.3" cy="498.2" r="2.6" fill="#ffffff"/>
<circle cx="476.7" cy="498.2" r="2.6" fill="#ffffff"/>
<circle cx="483.1" cy="498.2" r="2.6" fill="#ffffff"/>
<circle cx="489.5" cy="498.2" r="2.6" fill="#ffffff"/>
<circle cx="495.9" cy="497.7" r="2.6" fill="#ffffff"/>
<circle cx="502.3" cy="497.7" r="2.6" fill="#ffffff"/>
<circle cx="508.7" cy="498.2" r="2.6" fill="#ffffff"/>
<circle cx="515.1" cy="500.4" r="2.6" fill="#ffffff"/>
<circle cx="521.5" cy="503.6" r="2.6" fill="#ffffff"/>
<circle cx="527.9" cy="505.3" r="2.6" fill="#ffffff"/>
<circle cx="534.3" cy="507.3" r="2.6" fill="#ffffff"/>
<circle cx="540.7" cy="507.6" r="2.6" fill="#ffffff"/>
<circle cx="547.1" cy="507.6" r="2.6" fill="#ffffff"/>
<circle cx="553.5" cy="507.6" r="2.6" fill="#ffffff"/>
<circle cx="559.9" cy="507.3" r="2.6" fill="#ffffff"/>
<circle cx="566.3" cy="507.3" r="2.6" fill="#ffffff"/>
<circle cx="572.7" cy="509.4" r="2.6" fill="#ffffff"/>
<circle cx="579.1" cy="509.4" r="2.6" fill="#ffffff"/>
<circle cx="585.5" cy="509.4" r="2.6" fill="#ffffff"/>
<circle cx="591.9" cy="509.4" r="2.6" fill="#ffffff"/>
<circle cx="598.3" cy="510.3" r="2.6" fill="#ffffff"/>
<circle cx="604.7" cy="510.3" r="2.6" fill="#ffffff"/>
<circle cx="611.1" cy="510" r="2.6" fill="#ffffff"/>
<circle cx="617.5" cy="508.5" r="2.6" fill="#ffffff"/>
<circle cx="623.9" cy="508.5" r="2.6" fill="#ffffff"/>
<circle cx="630.3" cy="504.5" r="2.6" fill="#ffffff"/>
<circle cx="636.7" cy="498.6" r="2.6" fill="#ffffff"/>
<circle cx="643.1" cy="497.7" r="2.6" fill="#ffffff"/>
<circle cx="649.5" cy="495.8" r="2.6" fill="#ffffff"/>
<circle cx="655.9" cy="494.9" r="2.6" fill="#ffffff"/>
<circle cx="662.3" cy="495.5" r="2.6" fill="#ffffff"/>
<circle cx="668.7" cy="495.5" r="2.6" fill="#ffffff"/>
<circle cx="675.1" cy="494.9" r="2.6" fill="#ffffff"/>
<circle cx="681.5" cy="494" r="2.6" fill="#ffffff"/>
<circle cx="687.9" cy="494" r="2.6" fill="#ffffff"/>
<circle cx="694.3" cy="504.9" r="2.6" fill="#ffffff"/>
<circle cx="700.7" cy="504" r="2.6" fill="#ffffff"/>
<circle cx="707.1" cy="506.4" r="2.6" fill="#ffffff"/>
<circle cx="713.5" cy="504.9" r="2.6" fill="#ffffff"/>
<circle cx="719.9" cy="506.7" r="2.6" fill="#ffffff"/>
<circle cx="726.3" cy="507.6" r="2.6" fill="#ffffff"/>
<circle cx="732.7" cy="508.2" r="2.6" fill="#ffffff"/>
<circle cx="739.1" cy="509.1" r="2.6" fill="#ffffff"/>
<circle cx="745.5" cy="509.4" r="2.6" fill="#ffffff"/>
<circle cx="751.9" cy="509.1" r="2.6" fill="#ffffff"/>
<circle cx="758.3" cy="507.6" r="2.6" fill="#ffffff"/>
<circle cx="764.7" cy="508.5" r="2.6" fill="#ffffff"/>
<circle cx="771.1" cy="508.5" r="2.6" fill="#ffffff"/>
<circle cx="777.5" cy="507.6" r="2.6" fill="#ffffff"/>
<circle cx="783.9" cy="507.3" r="2.6" fill="#ffffff"/>
<circle cx="790.3" cy="505.8" r="2.6" fill="#ffffff"/>
<circle cx="796.7" cy="506.7" r="2.6" fill="#ffffff"/>
<circle cx="803.1" cy="507.6" r="2.6" fill="#ffffff"/>
<circle cx="809.5" cy="507.1" r="2.6" fill="#ffffff"/>
<circle cx="815.9" cy="507.1" r="2.6" fill="#ffffff"/>
<circle cx="822.3" cy="507.1" r="2.6" fill="#ffffff"/>
<circle cx="828.7" cy="507.1" r="2.6" fill="#ffffff"/>
<circle cx="835.1" cy="507.1" r="2.6" fill="#ffffff"/>
<circle cx="841.5" cy="507.1" r="2.6" fill="#ffffff"/>
<circle cx="348.7" cy="508.5" r="2.6" fill="#cccccc"/>
<circle cx="355.1" cy="508.2" r="2.6" fill="#cccccc"/>
<circle cx="361.5" cy="507.3" r="2.6" fill="#cccccc"/>
<circle cx="367.9" cy="506.7" r="2.6" fill="#cccccc"/>
<circle cx="374.3" cy="505.8" r="2.6" fill="#cccccc"/>
<circle cx="380.7" cy="507.1" r="2.6" fill="#cccccc"/>
<circle cx="387.1" cy="507.1" r="2.6" fill="#cccccc"/>
<circle cx="393.5" cy="507.1" r="2.6" fill="#cccccc"/>
<circle cx="399.9" cy="507.1" r="2.6" fill="#cccccc"/>
<circle cx="406.3" cy="506.7" r="2.6" fill="#cccccc"/>
<circle cx="412.7" cy="505.8" r="2.6" fill="#cccccc"/>
<circle cx="419.1" cy="504.9" r="2.6" fill="#cccccc"/>
<circle cx="425.5" cy="504" r="2.6" fill="#cccccc"/>
<circle cx="431.9" cy="503.5" r="2.6" fill="#cccccc"/>
<circle cx="438.3" cy="502.7" r="2.6" fill="#cccccc"/>
<circle cx="444.7" cy="499.8" r="2.6" fill="#cccccc"/>
<circle cx="451.1" cy="499.5" r="2.6" fill="#cccccc"/>
<circle cx="457.5" cy="499.5" r="2.6" fill="#cccccc"/>
<circle cx="463.9" cy="499.5" r="2.6" fill="#cccccc"/>
<circle cx="470.3" cy="494" r="2.6" fill="#cccccc"/>
<circle cx="476.7" cy="494.4" r="2.6" fill="#cccccc"/>
<circle cx="483.1" cy="494.4" r="2.6" fill="#cccccc"/>
<circle cx="489.5" cy="494" r="2.6" fill="#cccccc"/>
<circle cx="495.9" cy="493.7" r="2.6" fill="#cccccc"/>
<circle cx="502.3" cy="493.7" r="2.6" fill="#cccccc"/>
<circle cx="508.7" cy="493.7" r="2.6" fill="#cccccc"/>
<circle cx="515.1" cy="494" r="2.6" fill="#cccccc"/>
<circle cx="521.5" cy="496.7" r="2.6" fill="#cccccc"/>
<circle cx="527.9" cy="497.7" r="2.6" fill="#cccccc"/>
<circle cx="534.3" cy="500.4" r="2.6" fill="#cccccc"/>
<circle cx="540.7" cy="501.3" r="2.6" fill="#cccccc"/>
<circle cx="547.1" cy="501.3" r="2.6" fill="#cccccc"/>
<circle cx="553.5" cy="502.2" r="2.6" fill="#cccccc"/>
<circle cx="559.9" cy="500.9" r="2.6" fill="#cccccc"/>
<circle cx="566.3" cy="501.6" r="2.6" fill="#cccccc"/>
<circle cx="572.7" cy="506.7" r="2.6" fill="#cccccc"/>
<circle cx="579.1" cy="506.7" r="2.6" fill="#cccccc"/>
<circle cx="585.5" cy="506.7" r="2.6" fill="#cccccc"/>
<circle cx="591.9" cy="506.7" r="2.6" fill="#cccccc"/>
<circle cx="598.3" cy="507.6" r="2.6" fill="#cccccc"/>
<circle cx="604.7" cy="507.6" r="2.6" fill="#cccccc"/>
<circle cx="611.1" cy="503.1" r="2.6" fill="#cccccc"/>
<circle cx="617.5" cy="503.1" r="2.6" fill="#cccccc"/>
<circle cx="623.9" cy="504" r="2.6" fill="#cccccc"/>
<circle cx="630.3" cy="496.7" r="2.6" fill="#cccccc"/>
<circle cx="636.7" cy="494.9" r="2.6" fill="#cccccc"/>
<circle cx="643.1" cy="494" r="2.6" fill="#cccccc"/>
<circle cx="649.5" cy="492.6" r="2.6" fill="#cccccc"/>
<circle cx="655.9" cy="491.3" r="2.6" fill="#cccccc"/>
<circle cx="662.3" cy="492.2" r="2.6" fill="#cccccc"/>
<circle cx="668.7" cy="491.3" r="2.6" fill="#cccccc"/>
<circle cx="675.1" cy="490.8" r="2.6" fill="#cccccc"/>
<circle cx="681.5" cy="490.4" r="2.6" fill="#cccccc"/>
<circle cx="687.9" cy="490.4" r="2.6" fill="#cccccc"/>
<circle cx="694.3" cy="490.4" r="2.6" fill="#cccccc"/>
<circle cx="700.7" cy="487.7" r="2.6" fill="#cccccc"/>
<circle cx="707.1" cy="500.4" r="2.6" fill="#cccccc"/>
<circle cx="713.5" cy="499.5" r="2.6" fill="#cccccc"/>
<circle cx="719.9" cy="502.2" r="2.6" fill="#cccccc"/>
<circle cx="726.3" cy="502.2" r="2.6" fill="#cccccc"/>
<circle cx="732.7" cy="502.2" r="2.6" fill="#cccccc"/>
<circle cx="739.1" cy="506.7" r="2.6" fill="#cccccc"/>
<circle cx="745.5" cy="506.7" r="2.6" fill="#cccccc"/>
<circle cx="751.9" cy="505.8" r="2.6" fill="#cccccc"/>
<circle cx="758.3" cy="505.8" r="2.6" fill="#cccccc"/>
<circle cx="764.7" cy="505.8" r="2.6" fill="#cccccc"/>
<circle cx="771.1" cy="505.8" r="2.6" fill="#cccccc"/>
<circle cx="777.5" cy="505.8" r="2.6" fill="#cccccc"/>
<circle cx="783.9" cy="502.2" r="2.6" fill="#cccccc"/>
<circle cx="790.3" cy="502.2" r="2.6" fill="#cccccc"/>
<circle cx="796.7" cy="502.2" r="2.6" fill="#cccccc"/>
<circle cx="803.1" cy="502.2" r="2.6" fill="#cccccc"/>
<circle cx="809.5" cy="502.2" r="2.6" fill="#cccccc"/>
<circle cx="815.9" cy="502.2" r="2.6" fill="#cccccc"/>
<circle cx="822.3" cy="500.4" r="2.6" fill="#cccccc"/>
<circle cx="828.7" cy="498.6" r="2.6" fill="#cccccc"/>
<circle cx="835.1" cy="502.2" r="2.6" fill="#cccccc"/>
<circle cx="841.5" cy="502.2" r="2.6" fill="#cccccc"/>
<circle cx="355.1" cy="499.8" r="2.6" fill="#999999"/>
<circle cx="361.5" cy="504" r="2.6" fill="#999999"/>
<circle cx="367.9" cy="503.5" r="2.6" fill="#999999"/>
<circle cx="374.3" cy="501.6" r="2.6" fill="#999999"/>
<circle cx="380.7" cy="504.5" r="2.6" fill="#999999"/>
<circle cx="387.1" cy="504.5" r="2.6" fill="#999999"/>
<circle cx="393.5" cy="503.5" r="2.6" fill="#999999"/>
<circle cx="399.9" cy="502.5" r="2.6" fill="#999999"/>
<circle cx="406.3" cy="501.6" r="2.6" fill="#999999"/>
<circle cx="412.7" cy="500.4" r="2.6" fill="#999999"/>
<circle cx="419.1" cy="500.4" r="2.6" fill="#999999"/>
<circle cx="425.5" cy="499.5" r="2.6" fill="#999999"/>
<circle cx="431.9" cy="499.5" r="2.6" fill="#999999"/>
<circle cx="438.3" cy="498.6" r="2.6" fill="#999999"/>
<circle cx="444.7" cy="498.6" r="2.6" fill="#999999"/>
<circle cx="451.1" cy="496.7" r="2.6" fill="#999999"/>
<circle cx="457.5" cy="496.7" r="2.6" fill="#999999"/>
<circle cx="463.9" cy="495.8" r="2.6" fill="#999999"/>
<circle cx="489.5" cy="460.5" r="2.6" fill="#999999"/>
<circle cx="495.9" cy="459.6" r="2.6" fill="#999999"/>
<circle cx="502.3" cy="459.6" r="2.6" fill="#999999"/>
<circle cx="508.7" cy="489.5" r="2.6" fill="#999999"/>
<circle cx="515.1" cy="489.5" r="2.6" fill="#999999"/>
<circle cx="521.5" cy="490.4" r="2.6" fill="#999999"/>
<circle cx="527.9" cy="492.6" r="2.6" fill="#999999"/>
<circle cx="534.3" cy="489.5" r="2.6" fill="#999999"/>
<circle cx="540.7" cy="497.7" r="2.6" fill="#999999"/>
<circle cx="547.1" cy="498.6" r="2.6" fill="#999999"/>
<circle cx="553.5" cy="495.8" r="2.6" fill="#999999"/>
<circle cx="559.9" cy="493.1" r="2.6" fill="#999999"/>
<circle cx="566.3" cy="491.8" r="2.6" fill="#999999"/>
<circle cx="572.7" cy="504" r="2.6" fill="#999999"/>
<circle cx="579.1" cy="504" r="2.6" fill="#999999"/>
<circle cx="585.5" cy="504" r="2.6" fill="#999999"/>
<circle cx="591.9" cy="504" r="2.6" fill="#999999"/>
<circle cx="598.3" cy="505.8" r="2.6" fill="#999999"/>
<circle cx="604.7" cy="505.8" r="2.6" fill="#999999"/>
<circle cx="611.1" cy="497.7" r="2.6" fill="#999999"/>
<circle cx="617.5" cy="497.7" r="2.6" fill="#999999"/>
<circle cx="623.9" cy="497.7" r="2.6" fill="#999999"/>
<circle cx="630.3" cy="494" r="2.6" fill="#999999"/>
<circle cx="636.7" cy="491.3" r="2.6" fill="#999999"/>
<circle cx="643.1" cy="490.4" r="2.6" fill="#999999"/>
<circle cx="649.5" cy="489.5" r="2.6" fill="#999999"/>
<circle cx="655.9" cy="488.6" r="2.6" fill="#999999"/>
<circle cx="662.3" cy="487.3" r="2.6" fill="#999999"/>
<circle cx="668.7" cy="488.6" r="2.6" fill="#999999"/>
<circle cx="675.1" cy="488.6" r="2.6" fill="#999999"/>
<circle cx="681.5" cy="488.6" r="2.6" fill="#999999"/>
<circle cx="687.9" cy="488.6" r="2.6" fill="#999999"/>
<circle cx="694.3" cy="487.7" r="2.6" fill="#999999"/>
<circle cx="700.7" cy="486.4" r="2.6" fill="#999999"/>
<circle cx="707.1" cy="499.5" r="2.6" fill="#999999"/>
<circle cx="713.5" cy="497.7" r="2.6" fill="#999999"/>
<circle cx="719.9" cy="499.5" r="2.6" fill="#999999"/>
<circle cx="726.3" cy="501.3" r="2.6" fill="#999999"/>
<circle cx="732.7" cy="501.3" r="2.6" fill="#999999"/>
<circle cx="739.1" cy="504" r="2.6" fill="#999999"/>
<circle cx="745.5" cy="505.8" r="2.6" fill="#999999"/>
<circle cx="751.9" cy="502.2" r="2.6" fill="#999999"/>
<circle cx="758.3" cy="499.5" r="2.6" fill="#999999"/>
<circle cx="764.7" cy="503.1" r="2.6" fill="#999999"/>
<circle cx="771.1" cy="503.1" r="2.6" fill="#999999"/>
<circle cx="777.5" cy="503.1" r="2.6" fill="#999999"/>
<circle cx="783.9" cy="499.5" r="2.6" fill="#999999"/>
<circle cx="790.3" cy="499.5" r="2.6" fill="#999999"/>
<circle cx="796.7" cy="499.5" r="2.6" fill="#999999"/>
<circle cx="803.1" cy="499.5" r="2.6" fill="#999999"/>
<circle cx="809.5" cy="499.5" r="2.6" fill="#999999"/>
<circle cx="815.9" cy="499.5" r="2.6" fill="#999999"/>
<circle cx="822.3" cy="499.5" r="2.6" fill="#999999"/>
<circle cx="828.7" cy="494.9" r="2.6" fill="#999999"/>
<circle cx="835.1" cy="496.7" r="2.6" fill="#999999"/>
<circle cx="841.5" cy="496.7" r="2.6" fill="#999999"/>
<circle cx="355.1" cy="494" r="2.6" fill="#555555"/>
<circle cx="361.5" cy="495.8" r="2.6" fill="#555555"/>
<circle cx="367.9" cy="494.9" r="2.6" fill="#555555"/>
<circle cx="380.7" cy="495.8" r="2.6" fill="#555555"/>
<circle cx="387.1" cy="491.3" r="2.6" fill="#555555"/>
<circle cx="393.5" cy="497.7" r="2.6" fill="#555555"/>
<circle cx="399.9" cy="495.8" r="2.6" fill="#555555"/>
<circle cx="406.3" cy="495.8" r="2.6" fill="#555555"/>
<circle cx="412.7" cy="494" r="2.6" fill="#555555"/>
<circle cx="419.1" cy="495.8" r="2.6" fill="#555555"/>
<circle cx="425.5" cy="494.9" r="2.6" fill="#555555"/>
<circle cx="431.9" cy="495.8" r="2.6" fill="#555555"/>
<circle cx="438.3" cy="494.9" r="2.6" fill="#555555"/>
<circle cx="444.7" cy="494.9" r="2.6" fill="#555555"/>
<circle cx="451.1" cy="493.1" r="2.6" fill="#555555"/>
<circle cx="457.5" cy="461.9" r="2.6" fill="#555555"/>
<circle cx="463.9" cy="460.8" r="2.6" fill="#555555"/>
<circle cx="470.3" cy="488.2" r="2.6" fill="#555555"/>
<circle cx="476.7" cy="487.7" r="2.6" fill="#555555"/>
<circle cx="483.1" cy="490" r="2.6" fill="#555555"/>
<circle cx="521.5" cy="485.9" r="2.6" fill="#555555"/>
<circle cx="527.9" cy="482.8" r="2.6" fill="#555555"/>
<circle cx="534.3" cy="486.4" r="2.6" fill="#555555"/>
<circle cx="540.7" cy="484.4" r="2.6" fill="#555555"/>
<circle cx="553.5" cy="489.5" r="2.6" fill="#555555"/>
<circle cx="559.9" cy="491.8" r="2.6" fill="#555555"/>
<circle cx="572.7" cy="500.4" r="2.6" fill="#555555"/>
<circle cx="579.1" cy="500.4" r="2.6" fill="#555555"/>
<circle cx="585.5" cy="500.4" r="2.6" fill="#555555"/>
<circle cx="591.9" cy="500.4" r="2.6" fill="#555555"/>
<circle cx="598.3" cy="502.5" r="2.6" fill="#555555"/>
<circle cx="604.7" cy="495.5" r="2.6" fill="#555555"/>
<circle cx="611.1" cy="494.9" r="2.6" fill="#555555"/>
<circle cx="630.3" cy="487.7" r="2.6" fill="#555555"/>
<circle cx="636.7" cy="488.2" r="2.6" fill="#555555"/>
<circle cx="643.1" cy="487.7" r="2.6" fill="#555555"/>
<circle cx="655.9" cy="483.1" r="2.6" fill="#555555"/>
<circle cx="668.7" cy="483.1" r="2.6" fill="#555555"/>
<circle cx="675.1" cy="487.7" r="2.6" fill="#555555"/>
<circle cx="681.5" cy="487.7" r="2.6" fill="#555555"/>
<circle cx="687.9" cy="487.7" r="2.6" fill="#555555"/>
<circle cx="694.3" cy="487.7" r="2.6" fill="#555555"/>
<circle cx="707.1" cy="484.4" r="2.6" fill="#555555"/>
<circle cx="713.5" cy="493.1" r="2.6" fill="#555555"/>
<circle cx="726.3" cy="498.6" r="2.6" fill="#555555"/>
<circle cx="739.1" cy="498.6" r="2.6" fill="#555555"/>
<circle cx="745.5" cy="498.6" r="2.6" fill="#555555"/>
<circle cx="751.9" cy="494.9" r="2.6" fill="#555555"/>
<circle cx="758.3" cy="494.9" r="2.6" fill="#555555"/>
<circle cx="764.7" cy="501.3" r="2.6" fill="#555555"/>
<circle cx="771.1" cy="501.3" r="2.6" fill="#555555"/>
<circle cx="828.7" cy="494" r="2.6" fill="#555555"/>
<circle cx="841.5" cy="494.9" r="2.6" fill="#555555"/>
<circle cx="348.7" cy="481.9" r="2.6" fill="#000000"/>
<circle cx="355.1" cy="484.1" r="2.6" fill="#000000"/>
<circle cx="361.5" cy="488.2" r="2.6" fill="#000000"/>
<circle cx="367.9" cy="486.4" r="2.6" fill="#000000"/>
<circle cx="374.3" cy="484.4" r="2.6" fill="#000000"/>
<circle cx="380.7" cy="489.1" r="2.6" fill="#000000"/>
<circle cx="387.1" cy="485.9" r="2.6" fill="#000000"/>
<circle cx="393.5" cy="487.7" r="2.6" fill="#000000"/>
<circle cx="399.9" cy="489.1" r="2.6" fill="#000000"/>
<circle cx="406.3" cy="485.9" r="2.6" fill="#000000"/>
<circle cx="412.7" cy="485.9" r="2.6" fill="#000000"/>
<circle cx="419.1" cy="485.9" r="2.6" fill="#000000"/>
<circle cx="425.5" cy="484.4" r="2.6" fill="#000000"/>
<circle cx="431.9" cy="494.4" r="2.6" fill="#000000"/>
<circle cx="438.3" cy="489.1" r="2.6" fill="#000000"/>
<circle cx="444.7" cy="477.3" r="2.6" fill="#000000"/>
<circle cx="451.1" cy="458.7" r="2.6" fill="#000000"/>
<circle cx="457.5" cy="457.8" r="2.6" fill="#000000"/>
<circle cx="476.7" cy="485.9" r="2.6" fill="#000000"/>
<circle cx="547.1" cy="494.4" r="2.6" fill="#000000"/>
<circle cx="579.1" cy="495.8" r="2.6" fill="#000000"/>
<circle cx="591.9" cy="488.2" r="2.6" fill="#000000"/>
<circle cx="598.3" cy="489.1" r="2.6" fill="#000000"/>
<circle cx="604.7" cy="489.5" r="2.6" fill="#000000"/>
<circle cx="611.1" cy="490.4" r="2.6" fill="#000000"/>
<circle cx="617.5" cy="490.4" r="2.6" fill="#000000"/>
<circle cx="623.9" cy="490.4" r="2.6" fill="#000000"/>
<circle cx="643.1" cy="486.2" r="2.6" fill="#000000"/>
<circle cx="649.5" cy="484.4" r="2.6" fill="#000000"/>
<circle cx="662.3" cy="483.1" r="2.6" fill="#000000"/>
<circle cx="713.5" cy="484.4" r="2.6" fill="#000000"/>
<circle cx="719.9" cy="494.4" r="2.6" fill="#000000"/>
<circle cx="726.3" cy="494.9" r="2.6" fill="#000000"/>
<circle cx="732.7" cy="495.8" r="2.6" fill="#000000"/>
<circle cx="739.1" cy="491.8" r="2.6" fill="#000000"/>
<circle cx="745.5" cy="493.1" r="2.6" fill="#000000"/>
<circle cx="751.9" cy="490.4" r="2.6" fill="#000000"/>
<circle cx="758.3" cy="477.3" r="2.6" fill="#000000"/>
<circle cx="764.7" cy="497.7" r="2.6" fill="#000000"/>
<circle cx="771.1" cy="497.7" r="2.6" fill="#000000"/>
<circle cx="777.5" cy="494.9" r="2.6" fill="#000000"/>
<circle cx="783.9" cy="494.9" r="2.6" fill="#000000"/>
<circle cx="790.3" cy="494.9" r="2.6" fill="#000000"/>
<circle cx="796.7" cy="494.9" r="2.6" fill="#000000"/>
<circle cx="803.1" cy="494.9" r="2.6" fill="#000000"/>
<circle cx="809.5" cy="494.9" r="2.6" fill="#000000"/>
<circle cx="815.9" cy="494" r="2.6" fill="#000000"/>
<circle cx="822.3" cy="493.1" r="2.6" fill="#000000"/>
<circle cx="828.7" cy="488" r="2.6" fill="#000000"/>
<circle cx="835.1" cy="493.1" r="2.6" fill="#000000"/>
<circle cx="841.5" cy="482.8" r="2.6" fill="#000000"/>
<circle cx="348.7" cy="447.8" r="2.6" fill="#b22222"/>
<circle cx="355.1" cy="447.8" r="2.6" fill="#b22222"/>
<circle cx="361.5" cy="447.4" r="2.6" fill="#b22222"/>
<circle cx="367.9" cy="447.4" r="2.6" fill="#b22222"/>
<circle cx="374.3" cy="448.7" r="2.6" fill="#b22222"/>
<circle cx="380.7" cy="448.7" r="2.6" fill="#b22222"/>
<circle cx="387.1" cy="448.7" r="2.6" fill="#b22222"/>
<circle cx="393.5" cy="448.7" r="2.6" fill="#b22222"/>
<circle cx="399.9" cy="448.7" r="2.6" fill="#b22222"/>
<circle cx="406.3" cy="449.6" r="2.6" fill="#b22222"/>
<circle cx="412.7" cy="449.6" r="2.6" fill="#b22222"/>
<circle cx="419.1" cy="449.6" r="2.6" fill="#b22222"/>
<circle cx="425.5" cy="449.6" r="2.6" fill="#b22222"/>
<circle cx="431.9" cy="449.6" r="2.6" fill="#b22222"/>
<circle cx="438.3" cy="449.6" r="2.6" fill="#b22222"/>
<circle cx="444.7" cy="449.6" r="2.6" fill="#b22222"/>
<circle cx="451.1" cy="449.6" r="2.6" fill="#b22222"/>
<circle cx="457.5" cy="449.6" r="2.6" fill="#b22222"/>
<circle cx="463.9" cy="450.9" r="2.6" fill="#b22222"/>
<circle cx="470.3" cy="450.9" r="2.6" fill="#b22222"/>
<circle cx="476.7" cy="452" r="2.6" fill="#b22222"/>
<circle cx="483.1" cy="452.9" r="2.6" fill="#b22222"/>
<circle cx="489.5" cy="453.2" r="2.6" fill="#b22222"/>
<circle cx="495.9" cy="452.9" r="2.6" fill="#b22222"/>
<circle cx="502.3" cy="453.2" r="2.6" fill="#b22222"/>
<circle cx="508.7" cy="454.1" r="2.6" fill="#b22222"/>
<circle cx="515.1" cy="454.7" r="2.6" fill="#b22222"/>
<circle cx="521.5" cy="480.1" r="2.6" fill="#b22222"/>
<circle cx="527.9" cy="480.1" r="2.6" fill="#b22222"/>
<circle cx="534.3" cy="476.3" r="2.6" fill="#b22222"/>
<circle cx="540.7" cy="475.5" r="2.6" fill="#b22222"/>
<circle cx="547.1" cy="480.1" r="2.6" fill="#b22222"/>
<circle cx="553.5" cy="485" r="2.6" fill="#b22222"/>
<circle cx="559.9" cy="488.2" r="2.6" fill="#b22222"/>
<circle cx="566.3" cy="488.2" r="2.6" fill="#b22222"/>
<circle cx="572.7" cy="461.4" r="2.6" fill="#b22222"/>
<circle cx="579.1" cy="458.1" r="2.6" fill="#b22222"/>
<circle cx="585.5" cy="456.9" r="2.6" fill="#b22222"/>
<circle cx="591.9" cy="456.9" r="2.6" fill="#b22222"/>
<circle cx="598.3" cy="454.7" r="2.6" fill="#b22222"/>
<circle cx="604.7" cy="453.8" r="2.6" fill="#b22222"/>
<circle cx="611.1" cy="453.6" r="2.6" fill="#b22222"/>
<circle cx="617.5" cy="452.9" r="2.6" fill="#b22222"/>
<circle cx="623.9" cy="452.9" r="2.6" fill="#b22222"/>
<circle cx="630.3" cy="451.4" r="2.6" fill="#b22222"/>
<circle cx="636.7" cy="451.4" r="2.6" fill="#b22222"/>
<circle cx="643.1" cy="451.4" r="2.6" fill="#b22222"/>
<circle cx="649.5" cy="451.4" r="2.6" fill="#b22222"/>
<circle cx="655.9" cy="451.4" r="2.6" fill="#b22222"/>
<circle cx="662.3" cy="452.3" r="2.6" fill="#b22222"/>
<circle cx="668.7" cy="452.9" r="2.6" fill="#b22222"/>
<circle cx="675.1" cy="453.2" r="2.6" fill="#b22222"/>
<circle cx="681.5" cy="484.6" r="2.6" fill="#b22222"/>
<circle cx="687.9" cy="484.6" r="2.6" fill="#b22222"/>
<circle cx="694.3" cy="484.6" r="2.6" fill="#b22222"/>
<circle cx="700.7" cy="468.3" r="2.6" fill="#b22222"/>
<circle cx="707.1" cy="480.1" r="2.6" fill="#b22222"/>
<circle cx="713.5" cy="478.2" r="2.6" fill="#b22222"/>
<circle cx="719.9" cy="475" r="2.6" fill="#b22222"/>
<circle cx="726.3" cy="461.4" r="2.6" fill="#b22222"/>
<circle cx="732.7" cy="458.1" r="2.6" fill="#b22222"/>
<circle cx="739.1" cy="455.9" r="2.6" fill="#b22222"/>
<circle cx="745.5" cy="454.7" r="2.6" fill="#b22222"/>
<circle cx="751.9" cy="454.7" r="2.6" fill="#b22222"/>
<circle cx="758.3" cy="454.7" r="2.6" fill="#b22222"/>
<circle cx="764.7" cy="452.9" r="2.6" fill="#b22222"/>
<circle cx="771.1" cy="453.2" r="2.6" fill="#b22222"/>
<circle cx="777.5" cy="452" r="2.6" fill="#b22222"/>
<circle cx="783.9" cy="452" r="2.6" fill="#b22222"/>
<circle cx="790.3" cy="453.2" r="2.6" fill="#b22222"/>
<circle cx="796.7" cy="453.2" r="2.6" fill="#b22222"/>
<circle cx="803.1" cy="452.3" r="2.6" fill="#b22222"/>
<circle cx="809.5" cy="452.3" r="2.6" fill="#b22222"/>
<circle cx="815.9" cy="453.2" r="2.6" fill="#b22222"/>
<circle cx="822.3" cy="452.3" r="2.6" fill="#b22222"/>
<circle cx="828.7" cy="452.3" r="2.6" fill="#b22222"/>
<circle cx="835.1" cy="452.3" r="2.6" fill="#b22222"/>
<circle cx="841.5" cy="452.3" r="2.6" fill="#b22222"/>
<polyline points="348.7,485 355.1,486.8 361.5,486.4 367.9,484.6 374.3,479 380.7,478.6 387.1,481.7 393.5,480.1 399.9,480.8 406.3,478.2 412.7,481.7 419.1,480.4 425.5,475 431.9,460.5 438.3,453.2 444.7,454.7 451.1,455 457.5,455.4 463.9,455 470.3,454.5 476.7,454.5 483.1,454.7 489.5,454.7 495.9,454.7 502.3,455 508.7,455.4 515.1,456.3 521.5,458.1 527.9,460.5 534.3,463.2 540.7,465.4 547.1,466.3 553.5,465.6 559.9,461.9 566.3,459.9 572.7,464.5 579.1,467.7 585.5,472.3 591.9,485 598.3,483.5 604.7,484.1 611.1,480.8 617.5,470.5 623.9,475.3 630.3,454.1 636.7,453.8 643.1,453.6 649.5,453.6 655.9,453.8 662.3,454.1 668.7,454.7 675.1,455.4 681.5,456.9 687.9,456.9 694.3,458.1 700.7,457.8 707.1,457.8 713.5,468.6 719.9,476.8 726.3,479.9 732.7,476.8 739.1,479.5 745.5,482.2 751.9,477.7 758.3,459.6 764.7,451.4 771.1,475 777.5,471.9 783.9,478.1 790.3,482.2 796.7,475 803.1,475.9 809.5,479.2 815.9,479 822.3,475 828.7,473.7 835.1,475 841.5,462.3" fill="none" stroke="#ff9900" stroke-width="1.8" stroke-linejoin="round"/>
</g>
<rect x="348.5" y="438.5" width="493" height="77.3" fill="none" stroke="#000" stroke-width="1.2"/>
<path d="M347.5 515.8V437.5H841.5" fill="none" stroke="#777" stroke-width="1" opacity="0.8"/>
<rect x="348.5" y="525.5" width="493" height="78.2" fill="#87d7ff"/>
<rect x="363.3" y="525.5" width="90.3" height="78.2" fill="#e8e8e8" style="mix-blend-mode:multiply"/>
<rect x="516.6" y="525.5" width="90.9" height="78.2" fill="#e8e8e8" style="mix-blend-mode:multiply"/>
<rect x="670.2" y="525.5" width="90.8" height="78.2" fill="#e8e8e8" style="mix-blend-mode:multiply"/>
<rect x="823.3" y="525.5" width="18.2" height="78.2" fill="#e8e8e8" style="mix-blend-mode:multiply"/>
<clipPath id="c10"><rect x="348.5" y="525.5" width="493" height="78.2"/></clipPath><g clip-path="url(#c10)">
<polygon points="348.5,603.7 348.7,525.7 355.1,529 361.5,528.1 367.9,531.5 374.3,527 380.7,529.3 387.1,537.1 393.5,541.7 399.9,539 406.3,527.5 412.7,526.6 419.1,527.9 425.5,530.3 431.9,527 438.3,526.3 444.7,526.6 451.1,531.2 457.5,536.6 463.9,535.7 470.3,540.2 476.7,542 483.1,544.8 489.5,546.6 495.9,545.7 502.3,552 508.7,573.8 515.1,600.1 521.5,602.8 527.9,603.3 534.3,603.3 540.7,603.3 547.1,603.3 553.5,603.3 559.9,603.3 566.3,601.9 572.7,599.2 579.1,583.7 585.5,571.1 591.9,560.2 598.3,565.6 604.7,567.4 611.1,575.6 617.5,575 623.9,569.8 630.3,583.7 636.7,581.4 643.1,585.6 649.5,565.6 655.9,553.8 662.3,560.2 668.7,590.1 675.1,603.3 681.5,603.7 687.9,603.7 694.3,603.7 700.7,603.7 707.1,603.7 713.5,603.3 719.9,601.9 726.3,592.8 732.7,553.8 739.1,563.3 745.5,550.6 751.9,562 758.3,561.1 764.7,588.3 771.1,583.7 777.5,578.3 783.9,573.4 790.3,571.6 796.7,568.3 803.1,568.3 809.5,581.9 815.9,584.7 822.3,584.1 828.7,583.7 835.1,577 841.5,570.5 841.5,603.7" fill="#ffffff"/>
<polygon points="348.5,603.7 348.7,525.4 355.1,525.4 361.5,525.4 367.9,525.4 374.3,525.4 380.7,525.4 387.1,526.3 393.5,528.1 399.9,530.3 406.3,525.7 412.7,525.4 419.1,525.4 425.5,526.6 431.9,531.2 438.3,530.8 444.7,531.2 451.1,543.7 457.5,557.5 463.9,565.6 470.3,572 476.7,586.5 483.1,597.3 489.5,602.2 495.9,603.1 502.3,603.7 508.7,603.7 515.1,603.7 521.5,603.7 527.9,603.7 534.3,603.7 540.7,603.7 547.1,603.7 553.5,603.7 559.9,603.3 566.3,601 572.7,594.6 579.1,581 585.5,564.7 591.9,533.9 598.3,526.3 604.7,526.3 611.1,539.3 617.5,577.4 623.9,590.1 630.3,601.9 636.7,603.3 643.1,603.7 649.5,603.7 655.9,603.7 662.3,602.8 668.7,599.2 675.1,602.8 681.5,603.7 687.9,603.7 694.3,603.7 700.7,603.7 707.1,603.3 713.5,602.4 719.9,595.5 726.3,533 732.7,532.1 739.1,528.1 745.5,527.5 751.9,527 758.3,550.2 764.7,574.7 771.1,530.6 777.5,554.2 783.9,543.9 790.3,530.3 796.7,527.5 803.1,563.8 809.5,581.4 815.9,584.7 822.3,588.6 828.7,591.9 835.1,592.8 841.5,590.1 841.5,603.7" fill="#999999"/>
<polygon points="348.5,603.7 348.7,525.4 355.1,525.4 361.5,525.4 367.9,525.4 374.3,525.4 380.7,525.4 387.1,525.4 393.5,525.4 399.9,525.4 406.3,525.4 412.7,525.4 419.1,525.4 425.5,525.4 431.9,525.4 438.3,525.4 444.7,543.1 451.1,550.2 457.5,559.3 463.9,565.6 470.3,547.5 476.7,550.2 483.1,559.3 489.5,575.6 495.9,591.9 502.3,589.2 508.7,563.8 515.1,560.2 521.5,543.9 527.9,556.5 534.3,542 540.7,545.7 547.1,533.9 553.5,544.8 559.9,542 566.3,581 572.7,550.2 579.1,530.3 585.5,536.6 591.9,528.4 598.3,525.7 604.7,525.4 611.1,526.6 617.5,535.7 623.9,534.2 630.3,553.8 636.7,556.5 643.1,535.7 649.5,540.2 655.9,552.9 662.3,529.3 668.7,550.2 675.1,566.5 681.5,562 687.9,550.2 694.3,567.4 700.7,582.8 707.1,556.5 713.5,533 719.9,526.6 726.3,525.7 732.7,526.6 739.1,525.7 745.5,525.7 751.9,525.7 758.3,535.7 764.7,525.7 771.1,525.4 777.5,525.4 783.9,525.4 790.3,525.4 796.7,525.4 803.1,525.4 809.5,525.4 815.9,525.4 822.3,525.4 828.7,525.4 835.1,526.3 841.5,533.9 841.5,603.7" fill="#555555"/>
<polygon points="348.5,603.7 348.7,570.5 355.1,570.5 361.5,572.9 367.9,581 374.3,587.9 380.7,583.7 387.1,585.6 393.5,585.6 399.9,590.1 406.3,591 412.7,594.1 419.1,594.6 425.5,601.9 431.9,603.7 431.9,603.7" fill="#333333"/>
<polygon points="559.9,603.7 559.9,603.7 566.3,601.9 572.7,595.5 579.1,584.7 585.5,582.8 591.9,580.1 598.3,571.1 604.7,573.8 611.1,583.7 617.5,600.1 623.9,601.9 630.3,603.7 630.3,603.7" fill="#333333"/>
<polygon points="726.3,603.7 726.3,603.7 732.7,601.9 739.1,590.1 745.5,573.8 751.9,591.9 758.3,599.2 764.7,593.7 771.1,592.8 777.5,598.2 783.9,601.3 790.3,601.3 796.7,600.1 803.1,597.3 809.5,601.9 815.9,603.7 815.9,603.7" fill="#333333"/>
<polyline points="348.7,525.4 355.1,525.4 361.5,525.4 367.9,525.4 374.3,525.4 380.7,525.4 387.1,526.3 393.5,528.1 399.9,530.3 406.3,525.7 412.7,525.4 419.1,525.4 425.5,526.6 431.9,531.2 438.3,530.8 444.7,531.2 451.1,543.7 457.5,557.5 463.9,565.6 470.3,572 476.7,586.5 483.1,597.3 489.5,602.2 495.9,603.1 502.3,603.7 508.7,603.7 515.1,603.7 521.5,603.7 527.9,603.7 534.3,603.7 540.7,603.7 547.1,603.7 553.5,603.7 559.9,603.3 566.3,601 572.7,594.6 579.1,581 585.5,564.7 591.9,533.9 598.3,526.3 604.7,526.3 611.1,539.3 617.5,577.4 623.9,590.1 630.3,601.9 636.7,603.3 643.1,603.7 649.5,603.7 655.9,603.7 662.3,602.8 668.7,599.2 675.1,602.8 681.5,603.7 687.9,603.7 694.3,603.7 700.7,603.7 707.1,603.3 713.5,602.4 719.9,595.5 726.3,533 732.7,532.1 739.1,528.1 745.5,527.5 751.9,527 758.3,550.2 764.7,574.7 771.1,530.6 777.5,554.2 783.9,543.9 790.3,530.3 796.7,527.5 803.1,563.8 809.5,581.4 815.9,584.7 822.3,588.6 828.7,591.9 835.1,592.8 841.5,590.1" fill="none" stroke="#a8a8a8" stroke-width="0.8" stroke-linejoin="round"/>
<polyline points="348.7,525.7 355.1,529 361.5,528.1 367.9,531.5 374.3,527 380.7,529.3 387.1,537.1 393.5,541.7 399.9,539 406.3,527.5 412.7,526.6 419.1,527.9 425.5,530.3 431.9,527 438.3,526.3 444.7,526.6 451.1,531.2 457.5,536.6 463.9,535.7 470.3,540.2 476.7,542 483.1,544.8 489.5,546.6 495.9,545.7 502.3,552 508.7,573.8 515.1,600.1 521.5,602.8 527.9,603.3 534.3,603.3 540.7,603.3 547.1,603.3 553.5,603.3 559.9,603.3 566.3,601.9 572.7,599.2 579.1,583.7 585.5,571.1 591.9,560.2 598.3,565.6 604.7,567.4 611.1,575.6 617.5,575 623.9,569.8 630.3,583.7 636.7,581.4 643.1,585.6 649.5,565.6 655.9,553.8 662.3,560.2 668.7,590.1 675.1,603.3 681.5,603.7 687.9,603.7 694.3,603.7 700.7,603.7 707.1,603.7 713.5,603.3 719.9,601.9 726.3,592.8 732.7,553.8 739.1,563.3 745.5,550.6 751.9,562 758.3,561.1 764.7,588.3 771.1,583.7 777.5,578.3 783.9,573.4 790.3,571.6 796.7,568.3 803.1,568.3 809.5,581.9 815.9,584.7 822.3,584.1 828.7,583.7 835.1,577 841.5,570.5" fill="none" stroke="#ffffff" stroke-width="1.1" stroke-linejoin="round"/>
</g>
<rect x="347.1" y="600.1" width="3.2" height="5.1" rx="1.5" fill="#ffb400"/>
<rect x="353.5" y="595.2" width="3.2" height="10" rx="1.5" fill="#ffb400"/>
<rect x="359.9" y="590.5" width="3.2" height="14.7" rx="1.5" fill="#ffb400"/>
<rect x="366.3" y="600.1" width="3.2" height="5.1" rx="1.5" fill="#ffb400"/>
<rect x="372.7" y="597" width="3.2" height="8.2" rx="1.5" fill="#ffb400"/>
<rect x="379.1" y="592.3" width="3.2" height="12.9" rx="1.5" fill="#ffb400"/>
<rect x="385.5" y="600.1" width="3.2" height="5.1" rx="1.5" fill="#ffb400"/>
<rect x="391.9" y="591" width="3.2" height="14.2" rx="1.5" fill="#ffb400"/>
<rect x="398.3" y="597" width="3.2" height="8.2" rx="1.5" fill="#ffb400"/>
<rect x="404.7" y="600.1" width="3.2" height="5.1" rx="1.5" fill="#ffb400"/>
<rect x="411.1" y="601" width="3.2" height="4.2" rx="1.5" fill="#ffb400"/>
<rect x="417.5" y="600.1" width="3.2" height="5.1" rx="1.5" fill="#ffb400"/>
<rect x="596.7" y="592.3" width="3.2" height="12.9" rx="1.5" fill="#ffb400"/>
<rect x="603.1" y="590.5" width="3.2" height="14.7" rx="1.5" fill="#ffb400"/>
<rect x="609.5" y="594.6" width="3.2" height="10.6" rx="1.5" fill="#ffb400"/>
<rect x="743.9" y="591" width="3.2" height="14.2" rx="1.5" fill="#ffb400"/>
<rect x="750.3" y="596.4" width="3.2" height="8.8" rx="1.5" fill="#ffb400"/>
<path d="M361.5 525.5V603.7M380.7 525.5V603.7M399.9 525.5V603.7M419.1 525.5V603.7M438.3 525.5V603.7M457.5 525.5V603.7M476.7 525.5V603.7M495.9 525.5V603.7M515.1 525.5V603.7M534.3 525.5V603.7M553.5 525.5V603.7M572.7 525.5V603.7M591.9 525.5V603.7M611.1 525.5V603.7M630.3 525.5V603.7M649.5 525.5V603.7M668.7 525.5V603.7M687.9 525.5V603.7M707.1 525.5V603.7M726.3 525.5V603.7M745.5 525.5V603.7M764.7 525.5V603.7M783.9 525.5V603.7M803.1 525.5V603.7M822.3 525.5V603.7M841.5 525.5V603.7M348.5 545.3H841.5M348.5 565H841.5M348.5 584.7H841.5" stroke="#000" stroke-width="1" stroke-dasharray="2.3 2" fill="none"/>
<rect x="348.5" y="525.5" width="493" height="78.2" fill="none" stroke="#000" stroke-width="1.2"/>
<path d="M347.5 603.7V524.5H841.5" fill="none" stroke="#777" stroke-width="1" opacity="0.8"/>
<text x="286" y="12.6" font-size="12" fill="#000094" stroke="#000094" stroke-width="0.3" text-anchor="start" textLength="154.6" lengthAdjust="spacing" xml:space="preserve">wschód słońca: 07:22 CEST</text>
<text x="287.6" y="25.4" font-size="12" fill="#000094" stroke="#000094" stroke-width="0.3" text-anchor="start" textLength="150.8" lengthAdjust="spacing" xml:space="preserve">zachód słońca: 17:18 CEST</text>
<text x="531.5" y="12.6" font-size="12" fill="#000094" stroke="#000094" stroke-width="0.3" text-anchor="start" textLength="128.3" lengthAdjust="spacing" xml:space="preserve">21°13'40"E, 53°49'29"N</text>
<text x="554.4" y="25.4" font-size="12" fill="#000094" stroke="#000094" stroke-width="0.3" text-anchor="start" textLength="82.4" lengthAdjust="spacing" xml:space="preserve">(x=253,  y=360)</text>
<text x="739" y="12.6" font-size="12" fill="#000094" stroke="#000094" stroke-width="0.3" text-anchor="start" textLength="158.5" lengthAdjust="spacing" xml:space="preserve">wysokość (min, środek, max)</text>
<text x="769.6" y="25.4" font-size="12" fill="#000094" stroke="#000094" stroke-width="0.3" text-anchor="start" textLength="97" lengthAdjust="spacing" xml:space="preserve">154 - 172 - 185 m</text>
<text x="361.5" y="54.5" font-size="13" fill="#000" stroke="#000" stroke-width="0.3" text-anchor="middle" xml:space="preserve">17</text>
<text x="361.5" y="616.8" font-size="13" fill="#000" stroke="#000" stroke-width="0.3" text-anchor="middle" xml:space="preserve">15</text>
<text x="399.9" y="54.5" font-size="13" fill="#000" stroke="#000" stroke-width="0.3" text-anchor="middle" xml:space="preserve">23</text>
<text x="399.9" y="616.8" font-size="13" fill="#000" stroke="#000" stroke-width="0.3" text-anchor="middle" xml:space="preserve">21</text>
<text x="438.3" y="54.5" font-size="13" fill="#000" stroke="#000" stroke-width="0.3" text-anchor="middle" xml:space="preserve">05</text>
<text x="438.3" y="616.8" font-size="13" fill="#000" stroke="#000" stroke-width="0.3" text-anchor="middle" xml:space="preserve">03</text>
<text x="476.7" y="54.5" font-size="13" fill="#000" stroke="#000" stroke-width="0.3" text-anchor="middle" xml:space="preserve">11</text>
<text x="476.7" y="616.8" font-size="13" fill="#000" stroke="#000" stroke-width="0.3" text-anchor="middle" xml:space="preserve">09</text>
<text x="515.1" y="54.5" font-size="13" fill="#000" stroke="#000" stroke-width="0.3" text-anchor="middle" xml:space="preserve">17</text>
<text x="515.1" y="616.8" font-size="13" fill="#000" stroke="#000" stroke-width="0.3" text-anchor="middle" xml:space="preserve">15</text>
<text x="553.5" y="54.5" font-size="13" fill="#000" stroke="#000" stroke-width="0.3" text-anchor="middle" xml:space="preserve">23</text>
<text x="553.5" y="616.8" font-size="13" fill="#000" stroke="#000" stroke-width="0.3" text-anchor="middle" xml:space="preserve">21</text>
<text x="591.9" y="54.5" font-size="13" fill="#000" stroke="#000" stroke-width="0.3" text-anchor="middle" xml:space="preserve">04</text>
<text x="591.9" y="616.8" font-size="13" fill="#000" stroke="#000" stroke-width="0.3" text-anchor="middle" xml:space="preserve">03</text>
<text x="630.3" y="54.5" font-size="13" fill="#000" stroke="#000" stroke-width="0.3" text-anchor="middle" xml:space="preserve">10</text>
<text x="630.3" y="616.8" font-size="13" fill="#000" stroke="#000" stroke-width="0.3" text-anchor="middle" xml:space="preserve">09</text>
<text x="668.7" y="54.5" font-size="13" fill="#000" stroke="#000" stroke-width="0.3" text-anchor="middle" xml:space="preserve">16</text>
<text x="668.7" y="616.8" font-size="13" fill="#000" stroke="#000" stroke-width="0.3" text-anchor="middle" xml:space="preserve">15</text>
<text x="707.1" y="54.5" font-size="13" fill="#000" stroke="#000" stroke-width="0.3" text-anchor="middle" xml:space="preserve">22</text>
<text x="707.1" y="616.8" font-size="13" fill="#000" stroke="#000" stroke-width="0.3" text-anchor="middle" xml:space="preserve">21</text>
<text x="745.5" y="54.5" font-size="13" fill="#000" stroke="#000" stroke-width="0.3" text-anchor="middle" xml:space="preserve">04</text>
<text x="745.5" y="616.8" font-size="13" fill="#000" stroke="#000" stroke-width="0.3" text-anchor="middle" xml:space="preserve">03</text>
<text x="783.9" y="54.5" font-size="13" fill="#000" stroke="#000" stroke-width="0.3" text-anchor="middle" xml:space="preserve">10</text>
<text x="783.9" y="616.8" font-size="13" fill="#000" stroke="#000" stroke-width="0.3" text-anchor="middle" xml:space="preserve">09</text>
<text x="822.3" y="54.5" font-size="13" fill="#000" stroke="#000" stroke-width="0.3" text-anchor="middle" xml:space="preserve">16</text>
<text x="822.3" y="616.8" font-size="13" fill="#000" stroke="#000" stroke-width="0.3" text-anchor="middle" xml:space="preserve">15</text>
<text x="302.4" y="54.5" font-size="13" fill="#000" stroke="#000" stroke-width="0.3" text-anchor="start" textLength="33.2" lengthAdjust="spacing" xml:space="preserve">CEST</text>
<text x="859.8" y="54.5" font-size="13" fill="#000" stroke="#000" stroke-width="0.3" text-anchor="start" textLength="23.8" lengthAdjust="spacing" xml:space="preserve">CET</text>
<text x="495.9" y="41.6" font-size="13" fill="#000" stroke="#000" stroke-width="0.3" text-anchor="middle" xml:space="preserve">sob, 25.10</text>
<text x="495.9" y="629.3" font-size="13" fill="#000" stroke="#000" stroke-width="0.3" text-anchor="middle" xml:space="preserve">25.10</text>
<text x="649.5" y="41.6" font-size="13" fill="#000" stroke="#000" stroke-width="0.3" text-anchor="middle" xml:space="preserve">nie, 26.10</text>
<text x="649.5" y="629.3" font-size="13" fill="#000" stroke="#000" stroke-width="0.3" text-anchor="middle" xml:space="preserve">26.10</text>
<text x="803.1" y="41.6" font-size="13" fill="#000" stroke="#000" stroke-width="0.3" text-anchor="middle" xml:space="preserve">pon, 27.10</text>
<text x="803.1" y="629.3" font-size="13" fill="#000" stroke="#000" stroke-width="0.3" text-anchor="middle" xml:space="preserve">27.10</text>
<text x="306.4" y="616.8" font-size="13" fill="#000" stroke="#000" stroke-width="0.3" text-anchor="start" textLength="23.9" lengthAdjust="spacing" xml:space="preserve">UTC</text>
<text x="860" y="616.8" font-size="13" fill="#000" stroke="#000" stroke-width="0.3" text-anchor="start" textLength="23.6" lengthAdjust="spacing" xml:space="preserve">UTC</text>
<text x="309.8" y="653" font-size="12" fill="#000094" stroke="#000094" stroke-width="0.3" text-anchor="start" textLength="108" lengthAdjust="spacing" xml:space="preserve">meteo@icm.edu.pl</text>
<text x="623.5" y="653" font-size="12" fill="#000094" stroke="#000094" stroke-width="0.3" text-anchor="start" textLength="252" lengthAdjust="spacing" xml:space="preserve">© 2007-2025 ICM, Uniwersytet Warszawski</text>
<text x="344.3" y="66.5" font-size="11" fill="#000" stroke="#000" stroke-width="0.3" text-anchor="end" xml:space="preserve">10</text>
<text x="850.6" y="66.5" font-size="11" fill="#000" stroke="#000" stroke-width="0.3" text-anchor="middle" xml:space="preserve">10</text>
<text x="344.3" y="95.4" font-size="11" fill="#000" stroke="#000" stroke-width="0.3" text-anchor="end" xml:space="preserve">5</text>
<text x="850.6" y="95.4" font-size="11" fill="#000" stroke="#000" stroke-width="0.3" text-anchor="middle" xml:space="preserve">5</text>
<text x="344.3" y="124.5" font-size="11" fill="#000" stroke="#000" stroke-width="0.3" text-anchor="end" xml:space="preserve">0</text>
<text x="850.6" y="124.5" font-size="11" fill="#000" stroke="#000" stroke-width="0.3" text-anchor="middle" xml:space="preserve">0</text>
<text x="344.3" y="150.2" font-size="11" fill="#000" stroke="#000" stroke-width="0.3" text-anchor="end" xml:space="preserve">5</text>
<text x="344.3" y="165.3" font-size="11" fill="#000" stroke="#000" stroke-width="0.3" text-anchor="end" xml:space="preserve">4</text>
<text x="344.3" y="180.3" font-size="11" fill="#000" stroke="#000" stroke-width="0.3" text-anchor="end" xml:space="preserve">3</text>
<text x="344.3" y="195.4" font-size="11" fill="#000" stroke="#000" stroke-width="0.3" text-anchor="end" xml:space="preserve">2</text>
<text x="344.3" y="210.4" font-size="11" fill="#000" stroke="#000" stroke-width="0.3" text-anchor="end" xml:space="preserve">1</text>
<text x="344.3" y="225.3" font-size="11" fill="#000" stroke="#000" stroke-width="0.3" text-anchor="end" xml:space="preserve">0</text>
<text x="853.7" y="150.2" font-size="11" fill="#e8501a" stroke="#e8501a" stroke-width="0.3" text-anchor="middle" xml:space="preserve">100</text>
<text x="853.7" y="165.3" font-size="11" fill="#e8501a" stroke="#e8501a" stroke-width="0.3" text-anchor="middle" xml:space="preserve">90</text>
<text x="853.7" y="180.3" font-size="11" fill="#e8501a" stroke="#e8501a" stroke-width="0.3" text-anchor="middle" xml:space="preserve">80</text>
<text x="853.7" y="195.4" font-size="11" fill="#e8501a" stroke="#e8501a" stroke-width="0.3" text-anchor="middle" xml:space="preserve">70</text>
<text x="853.7" y="210.4" font-size="11" fill="#e8501a" stroke="#e8501a" stroke-width="0.3" text-anchor="middle" xml:space="preserve">60</text>
<text x="853.7" y="225.3" font-size="11" fill="#e8501a" stroke="#e8501a" stroke-width="0.3" text-anchor="middle" xml:space="preserve">50</text>
<text x="344.3" y="238.7" font-size="11" fill="#000" stroke="#000" stroke-width="0.3" text-anchor="end" xml:space="preserve">1000</text>
<text x="844.5" y="238.7" font-size="11" fill="#000" stroke="#000" stroke-width="0.3" text-anchor="start" xml:space="preserve">750</text>
<text x="344.3" y="259.3" font-size="11" fill="#000" stroke="#000" stroke-width="0.3" text-anchor="end" xml:space="preserve">995</text>
<text x="844.5" y="259.3" font-size="11" fill="#000" stroke="#000" stroke-width="0.3" text-anchor="start" xml:space="preserve">746</text>
<text x="344.3" y="279.8" font-size="11" fill="#000" stroke="#000" stroke-width="0.3" text-anchor="end" xml:space="preserve">990</text>
<text x="844.5" y="279.8" font-size="11" fill="#000" stroke="#000" stroke-width="0.3" text-anchor="start" xml:space="preserve">742</text>
<text x="344.3" y="300.3" font-size="11" fill="#000" stroke="#000" stroke-width="0.3" text-anchor="end" xml:space="preserve">985</text>
<text x="844.5" y="300.3" font-size="11" fill="#000" stroke="#000" stroke-width="0.3" text-anchor="start" xml:space="preserve">739</text>
<text x="344.3" y="322.8" font-size="11" fill="#000" stroke="#000" stroke-width="0.3" text-anchor="end" xml:space="preserve">20</text>
<text x="850.6" y="322.8" font-size="11" fill="#000" stroke="#000" stroke-width="0.3" text-anchor="middle" xml:space="preserve">72</text>
<text x="344.3" y="341.9" font-size="11" fill="#000" stroke="#000" stroke-width="0.3" text-anchor="end" xml:space="preserve">15</text>
<text x="850.6" y="341.9" font-size="11" fill="#000" stroke="#000" stroke-width="0.3" text-anchor="middle" xml:space="preserve">54</text>
<text x="344.3" y="361.1" font-size="11" fill="#000" stroke="#000" stroke-width="0.3" text-anchor="end" xml:space="preserve">10</text>
<text x="850.6" y="361.1" font-size="11" fill="#000" stroke="#000" stroke-width="0.3" text-anchor="middle" xml:space="preserve">36</text>
<text x="344.3" y="380.2" font-size="11" fill="#000" stroke="#000" stroke-width="0.3" text-anchor="end" xml:space="preserve">5</text>
<text x="850.6" y="380.2" font-size="11" fill="#000" stroke="#000" stroke-width="0.3" text-anchor="middle" xml:space="preserve">18</text>
<text x="344.3" y="399" font-size="11" fill="#000" stroke="#000" stroke-width="0.3" text-anchor="end" xml:space="preserve">0</text>
<text x="850.6" y="399" font-size="11" fill="#000" stroke="#000" stroke-width="0.3" text-anchor="middle" xml:space="preserve">0</text>
<text x="344.3" y="442.8" font-size="11" fill="#000" stroke="#000" stroke-width="0.3" text-anchor="end" xml:space="preserve">15.0</text>
<text x="844.5" y="442.8" font-size="11" fill="#ff8000" stroke="#ff8000" stroke-width="0.3" text-anchor="start" xml:space="preserve">100</text>
<text x="344.3" y="462" font-size="11" fill="#000" stroke="#000" stroke-width="0.3" text-anchor="end" xml:space="preserve">7.0</text>
<text x="844.5" y="462" font-size="11" fill="#ff8000" stroke="#ff8000" stroke-width="0.3" text-anchor="start" xml:space="preserve">20</text>
<text x="344.3" y="481.2" font-size="11" fill="#000" stroke="#000" stroke-width="0.3" text-anchor="end" xml:space="preserve">2.0</text>
<text x="844.5" y="481.2" font-size="11" fill="#ff8000" stroke="#ff8000" stroke-width="0.3" text-anchor="start" xml:space="preserve">5</text>
<text x="344.3" y="500.3" font-size="11" fill="#000" stroke="#000" stroke-width="0.3" text-anchor="end" xml:space="preserve">0.5</text>
<text x="844.5" y="500.3" font-size="11" fill="#ff8000" stroke="#ff8000" stroke-width="0.3" text-anchor="start" xml:space="preserve">1</text>
<text x="344.3" y="519.8" font-size="11" fill="#000" stroke="#000" stroke-width="0.3" text-anchor="end" xml:space="preserve">0.0</text>
<text x="844.5" y="519.8" font-size="11" fill="#ff8000" stroke="#ff8000" stroke-width="0.3" text-anchor="start" xml:space="preserve">0</text>
<text x="344.3" y="529.7" font-size="11" fill="#000" stroke="#000" stroke-width="0.3" text-anchor="end" xml:space="preserve">8</text>
<text x="844.5" y="529.7" font-size="11" fill="#ff8000" stroke="#ff8000" stroke-width="0.3" text-anchor="start" xml:space="preserve">1</text>
<text x="344.3" y="549.3" font-size="11" fill="#000" stroke="#000" stroke-width="0.3" text-anchor="end" xml:space="preserve">6</text>
<text x="844.5" y="549.3" font-size="11" fill="#ff8000" stroke="#ff8000" stroke-width="0.3" text-anchor="start" xml:space="preserve">0.75</text>
<text x="344.3" y="569" font-size="11" fill="#000" stroke="#000" stroke-width="0.3" text-anchor="end" xml:space="preserve">4</text>
<text x="844.5" y="569" font-size="11" fill="#ff8000" stroke="#ff8000" stroke-width="0.3" text-anchor="start" xml:space="preserve">0.5</text>
<text x="344.3" y="588.7" font-size="11" fill="#000" stroke="#000" stroke-width="0.3" text-anchor="end" xml:space="preserve">2</text>
<text x="844.5" y="588.7" font-size="11" fill="#ff8000" stroke="#ff8000" stroke-width="0.3" text-anchor="start" xml:space="preserve">0.25</text>
<text x="344.3" y="608" font-size="11" fill="#000" stroke="#000" stroke-width="0.3" text-anchor="end" xml:space="preserve">0</text>
<text x="844.5" y="608" font-size="11" fill="#ff8000" stroke="#ff8000" stroke-width="0.3" text-anchor="start" xml:space="preserve">0</text>
<text transform="translate(293.2 96.5) rotate(-90)" font-size="12" fill="#000094" stroke="#000094" stroke-width="0.3" text-anchor="middle" textLength="65.5" lengthAdjust="spacing" xml:space="preserve">temperatura</text>
<text transform="translate(307.2 97) rotate(-90)" font-size="12" fill="#000094" stroke="#000094" stroke-width="0.3" text-anchor="middle" xml:space="preserve">(°C)</text>
<text transform="translate(293.2 184.5) rotate(-90)" font-size="12" fill="#000094" stroke="#000094" stroke-width="0.3" text-anchor="middle" xml:space="preserve">opad</text>
<text transform="translate(307.2 185.2) rotate(-90)" font-size="12" fill="#000094" stroke="#000094" stroke-width="0.3" text-anchor="middle" textLength="84.5" lengthAdjust="spacing" xml:space="preserve">(mm/h, kg/m²/h)</text>
<text transform="translate(293.2 273) rotate(-90)" font-size="12" fill="#000094" stroke="#000094" stroke-width="0.3" text-anchor="middle" xml:space="preserve">ciśnienie</text>
<text transform="translate(307.2 272.9) rotate(-90)" font-size="12" fill="#000094" stroke="#000094" stroke-width="0.3" text-anchor="middle" xml:space="preserve">(hPa)</text>
<text transform="translate(293.2 361.3) rotate(-90)" font-size="12" fill="#000094" stroke="#000094" stroke-width="0.3" text-anchor="middle" xml:space="preserve">wiatr</text>
<text transform="translate(307.2 361.6) rotate(-90)" font-size="12" fill="#000094" stroke="#000094" stroke-width="0.3" text-anchor="middle" xml:space="preserve">(m/s)</text>
<text transform="translate(293.3 474.2) rotate(-90)" font-size="12" fill="#000094" stroke="#000094" stroke-width="0.3" text-anchor="middle" textLength="103.3" lengthAdjust="spacing" xml:space="preserve">pion. rozciągł. chm.</text>
<text transform="translate(306.8 474.4) rotate(-90)" font-size="12" fill="#000094" stroke="#000094" stroke-width="0.3" text-anchor="middle" xml:space="preserve">(km)</text>
<text transform="translate(293.2 571.9) rotate(-90)" font-size="12" fill="#000094" stroke="#000094" stroke-width="0.3" text-anchor="middle" textLength="74.6" lengthAdjust="spacing" xml:space="preserve">zachmurzenie</text>
<text transform="translate(307.2 562.8) rotate(-90)" font-size="12" fill="#000094" stroke="#000094" stroke-width="0.3" text-anchor="middle" xml:space="preserve">(oktanty)</text>
<text transform="translate(893.5 96.5) rotate(-90)" font-size="12" fill="#000094" stroke="#000094" stroke-width="0.3" text-anchor="middle" xml:space="preserve">(°C)</text>
<text transform="translate(906 96.5) rotate(-90)" font-size="12" fill="#000094" stroke="#000094" stroke-width="0.3" text-anchor="middle" textLength="65.5" lengthAdjust="spacing" xml:space="preserve">temperatura</text>
<text transform="translate(893.8 185.3) rotate(-90)" font-size="12" fill="#000094" stroke="#000094" stroke-width="0.3" text-anchor="middle" xml:space="preserve">(%)</text>
<text transform="translate(906 185.3) rotate(-90)" font-size="12" fill="#000094" stroke="#000094" stroke-width="0.3" text-anchor="middle" textLength="88" lengthAdjust="spacing" xml:space="preserve">wilgotność wzgl.</text>
<text transform="translate(893.8 273.4) rotate(-90)" font-size="12" fill="#000094" stroke="#000094" stroke-width="0.3" text-anchor="middle" xml:space="preserve">(mm Hg)</text>
<text transform="translate(906 273) rotate(-90)" font-size="12" fill="#000094" stroke="#000094" stroke-width="0.3" text-anchor="middle" xml:space="preserve">ciśnienie</text>
<text transform="translate(893.8 361.3) rotate(-90)" font-size="12" fill="#000094" stroke="#000094" stroke-width="0.3" text-anchor="middle" xml:space="preserve">(km/h)</text>
<text transform="translate(906 361.3) rotate(-90)" font-size="12" fill="#000094" stroke="#000094" stroke-width="0.3" text-anchor="middle" xml:space="preserve">wiatr</text>
<text transform="translate(894 474.3) rotate(-90)" font-size="12" fill="#000094" stroke="#000094" stroke-width="0.3" text-anchor="middle" xml:space="preserve">(km)</text>
<text transform="translate(906.1 475.2) rotate(-90)" font-size="12" fill="#000094" stroke="#000094" stroke-width="0.3" text-anchor="middle" textLength="62.6" lengthAdjust="spacing" xml:space="preserve">widzialność</text>
<text transform="translate(893.5 562.7) rotate(-90)" font-size="12" fill="#000094" stroke="#000094" stroke-width="0.3" text-anchor="middle" xml:space="preserve">(frakcja)</text>
<text transform="translate(906 563) rotate(-90)" font-size="12" fill="#000094" stroke="#000094" stroke-width="0.3" text-anchor="middle" xml:space="preserve">mgła</text>
<text x="284" y="419.6" font-size="12" fill="#000094" stroke="#000094" stroke-width="0.3" text-anchor="start" xml:space="preserve">W</text>
<text x="294.6" y="411" font-size="12" fill="#000094" stroke="#000094" stroke-width="0.3" text-anchor="start" xml:space="preserve">N</text>
<text x="294.6" y="427.6" font-size="12" fill="#000094" stroke="#000094" stroke-width="0.3" text-anchor="start" textLength="6.6" lengthAdjust="spacing" xml:space="preserve">S</text>
<text x="301.6" y="419.6" font-size="12" fill="#000094" stroke="#000094" stroke-width="0.3" text-anchor="start" textLength="6.6" lengthAdjust="spacing" xml:space="preserve">E</text>
<text x="883.8" y="419.6" font-size="12" fill="#000094" stroke="#000094" stroke-width="0.3" text-anchor="start" xml:space="preserve">W</text>
<text x="894.4" y="411" font-size="12" fill="#000094" stroke="#000094" stroke-width="0.3" text-anchor="start" xml:space="preserve">N</text>
<text x="894.4" y="427.6" font-size="12" fill="#000094" stroke="#000094" stroke-width="0.3" text-anchor="start" textLength="6.6" lengthAdjust="spacing" xml:space="preserve">S</text>
<text x="901.4" y="419.6" font-size="12" fill="#000094" stroke="#000094" stroke-width="0.3" text-anchor="start" textLength="6.6" lengthAdjust="spacing" xml:space="preserve">E</text>
<rect x="170.2" y="30" width="61.8" height="598.7" fill="#eef3fc"/>
<rect x="135.3" y="57.4" width="110.4" height="76.9" fill="#fff"/>
<rect x="170.2" y="57.4" width="61.8" height="76.9" fill="#eef3fc"/>
<clipPath id="lc1"><rect x="135.3" y="57.4" width="110.4" height="76.9"/></clipPath><g clip-path="url(#lc1)">
<rect x="135.3" y="111.7" width="110.4" height="22.6" fill="#87d7ff"/>
<polygon points="135.7,103.1 142.1,103.6 151.4,106.9 163.6,110.3 171.4,112.4 177.1,113.9 184.7,114.6 191.4,116.3 198.6,117.4 205.7,118.6 212.9,119.6 220,117.1 227.1,118.6 233.6,122.4 240.7,116.7 245.4,116 245.4,124.3 242.9,127.9 238.6,130.7 233.6,134.3 221.4,134.3 210,130 198.6,124.3 191.4,120 184.7,117.1 177.1,115 163.6,112.9 151.4,109.3 142.1,106.4 135.7,105.7" fill="#b3e3ff"/>
<polygon points="135.7,87.4 142.1,89.7 151.4,94 163.6,98.6 177.1,103.1 191.4,106 205.7,108.3 220,109.7 230,111.1 238.6,106.9 245.4,105.4 245.4,117.1 238.6,120 233.6,124.3 227.1,123.1 220,121.4 212.9,120.3 205.7,118.6 198.6,116 191.4,114 184.7,112.9 177.1,111.4 171.4,110 163.6,107.9 151.4,103.1 142.1,100.3 135.7,99.7" fill="#ffe9e1"/>
</g>
<clipPath id="lc2"><rect x="170.2" y="57.4" width="61.8" height="76.9"/></clipPath><g clip-path="url(#lc2)">
<rect x="135.3" y="111.7" width="110.4" height="22.6" fill="#7dc1ec"/>
<polygon points="135.7,103.1 142.1,103.6 151.4,106.9 163.6,110.3 171.4,112.4 177.1,113.9 184.7,114.6 191.4,116.3 198.6,117.4 205.7,118.6 212.9,119.6 220,117.1 227.1,118.6 233.6,122.4 240.7,116.7 245.4,116 245.4,124.3 242.9,127.9 238.6,130.7 233.6,134.3 221.4,134.3 210,130 198.6,124.3 191.4,120 184.7,117.1 177.1,115 163.6,112.9 151.4,109.3 142.1,106.4 135.7,105.7" fill="#a6d9f6"/>
<polygon points="135.7,87.4 142.1,89.7 151.4,94 163.6,98.6 177.1,103.1 191.4,106 205.7,108.3 220,109.7 230,111.1 238.6,106.9 245.4,105.4 245.4,117.1 238.6,120 233.6,124.3 227.1,123.1 220,121.4 212.9,120.3 205.7,118.6 198.6,116 191.4,114 184.7,112.9 177.1,111.4 171.4,110 163.6,107.9 151.4,103.1 142.1,100.3 135.7,99.7" fill="#f4dcd8"/>
</g>
<path d="M142.3 57.4V134.3M163.4 57.4V134.3M184.5 57.4V134.3M205.6 57.4V134.3M226.7 57.4V134.3M135.3 59.3H245.7M135.3 77.1H245.7M135.3 94.3H245.7M135.3 111.7H245.7M135.3 129.3H245.7" stroke="#000" stroke-width="1" stroke-dasharray="2.4 2.1" fill="none"/>
<clipPath id="lc3"><rect x="135.3" y="57.4" width="110.4" height="76.9"/></clipPath><g clip-path="url(#lc3)">
<path d="M142.1 71.4V78.6M149.3 77.9V84.3M156.4 87.1V99.3M163.6 96.4V106.4M170.4 101.4V114.3M177.6 103.3V118.6M184.7 105V121.4M191.4 107.1V123.6M198.6 107.9V125.7M205.7 108.6V127.9M212.6 109.3V130M219.6 110V130.7M226.7 111.4V133.6M233.6 111.4V132.9M240.7 106.4V120.7" stroke="#b02020" stroke-width="1" fill="none"/>
<rect x="135.2" y="111.9" width="2.4" height="2.4" fill="#7060d0"/>
<rect x="138.1" y="111.9" width="2.4" height="2.4" fill="#7060d0"/>
<rect x="140.9" y="111.9" width="2.4" height="2.4" fill="#7060d0"/>
<rect x="143.8" y="111.9" width="2.4" height="2.4" fill="#7060d0"/>
<rect x="148.1" y="113.1" width="2.4" height="2.4" fill="#7060d0"/>
<rect x="155.2" y="114.2" width="2.4" height="2.4" fill="#7060d0"/>
<rect x="162.4" y="114.5" width="2.4" height="2.4" fill="#7060d0"/>
<rect x="169.2" y="114.8" width="2.4" height="2.4" fill="#7060d0"/>
<rect x="176.4" y="115.4" width="2.4" height="2.4" fill="#7060d0"/>
<rect x="183.5" y="115.9" width="2.4" height="2.4" fill="#7060d0"/>
<rect x="190.2" y="117.1" width="2.4" height="2.4" fill="#7060d0"/>
<rect x="197.4" y="118.2" width="2.4" height="2.4" fill="#7060d0"/>
<rect x="204.5" y="119.1" width="2.4" height="2.4" fill="#7060d0"/>
<rect x="211.7" y="119.4" width="2.4" height="2.4" fill="#7060d0"/>
<rect x="218.8" y="118.8" width="2.4" height="2.4" fill="#7060d0"/>
<rect x="225.9" y="119.5" width="2.4" height="2.4" fill="#7060d0"/>
<rect x="232.4" y="120.2" width="2.4" height="2.4" fill="#7060d0"/>
<rect x="239.5" y="116.7" width="2.4" height="2.4" fill="#7060d0"/>
<polyline points="135.7,102.9 142.1,103.3 151.4,106.4 163.6,110 171.4,112.1 177.1,113.6 184.7,114.3 191.4,116 198.6,117.1 205.7,118.3 212.9,119.3 216.4,117.9 220,116 224.3,117.1 230,120.7 233.6,122.1 240.7,116.4 245.4,115.7" fill="none" stroke="#0000ff" stroke-width="2.4" stroke-linejoin="round"/>
<polyline points="135.7,99.3 142.1,99.7 151.4,102.1 163.6,107.1 171.4,110.7 177.1,112.4 184.7,112.9 191.4,113.6 198.6,113.6 205.7,114 212.9,115 220,115.7 226.7,115.7 233.6,119 240.7,114.3 245.4,111.7" fill="none" stroke="#ff0000" stroke-width="2.6" stroke-linejoin="round"/>
</g>
<rect x="135.3" y="57.4" width="110.4" height="76.9" fill="none" stroke="#000" stroke-width="1.1"/>
<rect x="135.3" y="143.4" width="110.4" height="77" fill="#fff"/>
<rect x="170.2" y="143.4" width="61.8" height="77" fill="#eef3fc"/>
<rect x="135.3" y="186.9" width="7.8" height="33.5" fill="#0aa00a"/>
<rect x="142.9" y="181.6" width="6.9" height="38.8" fill="#0aa00a"/>
<rect x="149.6" y="179.4" width="7.6" height="41" fill="#0aa00a"/>
<rect x="157" y="201.6" width="7.5" height="18.8" fill="#0aa00a"/>
<rect x="164.3" y="208" width="6" height="12.4" fill="#0aa00a"/>
<rect x="170.1" y="218.3" width="7.1" height="2.1" fill="#0aa00a"/>
<rect x="157" y="182.3" width="7.3" height="19.5" fill="#1030c8"/>
<rect x="164.3" y="205.1" width="5.8" height="3" fill="#1030c8"/>
<path d="M139.3 165.1V187M146.4 147.3V182M153.6 147.3V180" stroke="#0aa00a" stroke-width="1" fill="none"/>
<path d="M160.4 171.1V183" stroke="#1030c8" stroke-width="1" fill="none"/>
<path d="M142.3 143.4V220.4M163.4 143.4V220.4M184.5 143.4V220.4M205.6 143.4V220.4M226.7 143.4V220.4M135.3 150.6H245.7M135.3 168.4H245.7M135.3 185.9H245.7M135.3 203.4H245.7" stroke="#000" stroke-width="1" stroke-dasharray="2.4 2.1" fill="none"/>
<rect x="145.1" y="146" width="2.6" height="2.6" fill="#ff1010"/>
<rect x="152.3" y="146" width="2.6" height="2.6" fill="#ff1010"/>
<circle cx="139.3" cy="173.3" r="2.2" fill="#ffe600" stroke="#000" stroke-width="0.9"/>
<circle cx="146.4" cy="173.3" r="2.2" fill="#ffa000" stroke="#000" stroke-width="0.9"/>
<circle cx="153.6" cy="173.3" r="2.2" fill="#e80000" stroke="#000" stroke-width="0.9"/>
<polyline points="136.4,172.3 143.3,167.3 149.3,159.4 157.1,154.9 164.7,152.3 184.7,152 190.7,149.1 197.9,148.7 205,154.4 212.1,155.9 219.3,151.6 225.7,149.1 232.1,151.1 239.3,156.6 245.7,164.4" fill="none" stroke="#e8501a" stroke-width="2.2" stroke-linejoin="round"/>
<rect x="138" y="218.6" width="2.6" height="1.6" fill="#e01010"/>
<rect x="146.2" y="218.6" width="2.6" height="1.6" fill="#e01010"/>
<rect x="153.3" y="218.6" width="2.6" height="1.6" fill="#e01010"/>
<rect x="160.5" y="218.6" width="2.6" height="1.6" fill="#e01010"/>
<rect x="135.3" y="143.4" width="110.4" height="77" fill="none" stroke="#000" stroke-width="1.1"/>
<rect x="135.3" y="229.6" width="110.4" height="76.8" fill="#fff"/>
<rect x="170.2" y="229.6" width="61.8" height="76.8" fill="#eef3fc"/>
<clipPath id="lpp"><polygon points="135.3,306.4 135.3,260.4 143.3,259.6 150,252.9 157.1,249 164.7,248.6 170.4,245 177.1,248.6 184.7,250.7 191.9,253.9 225,253.9 232.1,257.1 239.3,261.4 245.7,265.7 245.7,306.4"/></clipPath>
<g clip-path="url(#lpp)"><rect x="135.3" y="229.6" width="110.4" height="76.8" fill="#ffff00"/><rect x="164.7" y="229.6" width="5.4" height="76.8" fill="#ffd800"/></g>
<path d="M142.3 229.6V306.4M163.4 229.6V306.4M184.5 229.6V306.4M205.6 229.6V306.4M226.7 229.6V306.4M135.3 231.4H245.7M135.3 254.3H245.7M135.3 278.6H245.7M135.3 301.4H245.7" stroke="#000" stroke-width="1" stroke-dasharray="2.4 2.1" fill="none"/>
<clipPath id="lc4"><rect x="135.3" y="229.6" width="110.4" height="76.8"/></clipPath><g clip-path="url(#lc4)">
<polyline points="135.3,260.4 143.3,259.6 150,252.9 157.1,249 164.7,248.6 170.4,245 177.1,248.6 184.7,250.7 191.9,253.9 225,253.9 232.1,257.1 239.3,261.4 245.7,265.7" fill="none" stroke="#000" stroke-width="2" stroke-linejoin="round"/>
</g>
<rect x="135.3" y="229.6" width="110.4" height="76.8" fill="none" stroke="#000" stroke-width="1.1"/>
<rect x="135.3" y="315.4" width="110.4" height="76.7" fill="#fff"/>
<rect x="170.2" y="315.4" width="61.8" height="76.7" fill="#eef3fc"/>
<clipPath id="lwp"><polygon points="135.3,392.1 135.3,365 139.3,367.1 143.3,368.9 150,371.4 157.1,372.6 164.7,373.6 170.4,375 177.1,376 184.7,376 191.9,374.3 197.9,372.9 205,372.9 212.1,372.9 219.3,372.9 225.7,372.9 232.1,371.1 239.3,370 245.7,369.7 245.7,392.1"/></clipPath><g clip-path="url(#lwp)">
<rect x="135.3" y="315.4" width="12.8" height="76.7" fill="#10c010"/>
<rect x="147.9" y="315.4" width="21.3" height="76.7" fill="#008010"/>
<rect x="169" y="315.4" width="28.3" height="76.7" fill="#004890"/>
<rect x="197.1" y="315.4" width="14.2" height="76.7" fill="#008010"/>
<rect x="211.1" y="315.4" width="14.1" height="76.7" fill="#004890"/>
<rect x="225" y="315.4" width="14.2" height="76.7" fill="#008010"/>
<rect x="239" y="315.4" width="7.1" height="76.7" fill="#10c010"/>
</g>
<path d="M142.3 315.4V392.1M163.4 315.4V392.1M184.5 315.4V392.1M205.6 315.4V392.1M226.7 315.4V392.1M135.3 334.6H245.7M135.3 354.3H245.7M135.3 373.1H245.7" stroke="#000" stroke-width="1" stroke-dasharray="2.4 2.1" fill="none"/>
<clipPath id="lc5"><rect x="135.3" y="315.4" width="110.4" height="76.7"/></clipPath><g clip-path="url(#lc5)">
<polyline points="135.3,365 139.3,367.1 143.3,368.9 150,371.4 157.1,372.6 164.7,373.6 170.4,375 177.1,376 184.7,376 191.9,374.3 197.9,372.9 205,372.9 212.1,372.9 219.3,372.9 225.7,372.9 232.1,371.1 239.3,370 245.7,369.7" fill="none" stroke="#000090" stroke-width="2.2" stroke-linejoin="round"/>
<path d="M140.7 340.3H148.6M147.9 347.4H155M155 348.6H161.9M161.9 351.4H170M170 355.4H176.4M176.1 358.6H185M184.3 354.6H189.3M190 351.4H197.9M197.9 350.3H211.4M211.4 351.4H225M225.7 347.4H232.9M232.1 343.6H239.3M239.3 342.6H245.7" stroke="#ff0000" stroke-width="1" fill="none"/>
<circle cx="138.6" cy="317" r="1.5" fill="#ff1010"/>
</g>
<rect x="135.3" y="315.4" width="110.4" height="76.7" fill="none" stroke="#000" stroke-width="1.1"/>
<rect x="135.3" y="398.4" width="110.4" height="31.9" fill="#fff"/>
<rect x="170.2" y="398.4" width="61.8" height="31.9" fill="#eef3fc"/>
<path d="M142.3 398.4V430.3M163.4 398.4V430.3M184.5 398.4V430.3M205.6 398.4V430.3M226.7 398.4V430.3" stroke="#000" stroke-width="1" stroke-dasharray="2.4 2.1" fill="none"/>
<path d="M132.1 405.9L136.6 417.1" stroke="#00009c" stroke-width="1" fill="none"/><polygon points="139,422.9 133.9,418.2 139.4,415.9" fill="#00009c"/>
<path d="M139.2 405.9L143.7 417.1" stroke="#00009c" stroke-width="1" fill="none"/><polygon points="146,422.9 140.9,418.2 146.5,415.9" fill="#00009c"/>
<path d="M146.5 405.8L150.8 417" stroke="#00009c" stroke-width="1" fill="none"/><polygon points="153.1,422.9 148,418.1 153.6,415.9" fill="#00009c"/>
<path d="M153.8 405.7L157.9 417" stroke="#00009c" stroke-width="1" fill="none"/><polygon points="160.1,422.9 155.1,418 160.8,416" fill="#00009c"/>
<path d="M161.2 405.6L165.1 416.9" stroke="#00009c" stroke-width="1" fill="none"/><polygon points="167.1,422.9 162.2,417.9 167.9,416" fill="#00009c"/>
<path d="M168.8 405.4L172.3 416.9" stroke="#00009c" stroke-width="1" fill="none"/><polygon points="174.2,422.9 169.4,417.8 175.2,416" fill="#00009c"/>
<path d="M176.8 405.1L179.7 416.8" stroke="#00009c" stroke-width="1" fill="none"/><polygon points="181.2,422.9 176.7,417.5 182.6,416.1" fill="#00009c"/>
<path d="M184.1 405.1L186.8 416.8" stroke="#00009c" stroke-width="1" fill="none"/><polygon points="188.2,422.9 183.9,417.4 189.7,416.1" fill="#00009c"/>
<path d="M190.8 405.1L193.7 416.8" stroke="#00009c" stroke-width="1" fill="none"/><polygon points="195.2,422.9 190.8,417.5 196.6,416.1" fill="#00009c"/>
<path d="M197.2 405.3L200.5 416.8" stroke="#00009c" stroke-width="1" fill="none"/><polygon points="202.3,422.9 197.6,417.7 203.4,416" fill="#00009c"/>
<path d="M203.6 405.5L207.4 416.9" stroke="#00009c" stroke-width="1" fill="none"/><polygon points="209.3,422.9 204.5,417.8 210.2,416" fill="#00009c"/>
<path d="M210.1 405.7L214.2 417" stroke="#00009c" stroke-width="1" fill="none"/><polygon points="216.3,422.9 211.4,418 217,416" fill="#00009c"/>
<path d="M216.8 405.8L221.1 417" stroke="#00009c" stroke-width="1" fill="none"/><polygon points="223.4,422.9 218.3,418.1 223.9,415.9" fill="#00009c"/>
<path d="M223.5 405.9L228 417.1" stroke="#00009c" stroke-width="1" fill="none"/><polygon points="230.4,422.9 225.2,418.2 230.8,415.9" fill="#00009c"/>
<path d="M230.6 405.9L235.1 417.1" stroke="#00009c" stroke-width="1" fill="none"/><polygon points="237.4,422.9 232.3,418.2 237.8,415.9" fill="#00009c"/>
<path d="M237.6 405.9L242.1 417.1" stroke="#00009c" stroke-width="1" fill="none"/><polygon points="244.4,422.9 239.3,418.2 244.9,415.9" fill="#00009c"/>
<path d="M244.6 405.9L249.1 417.1" stroke="#00009c" stroke-width="1" fill="none"/><polygon points="251.5,422.9 246.3,418.2 251.9,415.9" fill="#00009c"/>
<rect x="135.3" y="398.4" width="110.4" height="31.9" fill="none" stroke="#000" stroke-width="1.1"/>
<rect x="135.3" y="436.4" width="110.4" height="77.6" fill="#87d7ff"/>
<rect x="170.2" y="436.4" width="61.8" height="77.6" fill="#7dc1ec"/>
<path d="M142.3 436.4V514M163.4 436.4V514M184.5 436.4V514M205.6 436.4V514M226.7 436.4V514M135.3 456.4H245.7M135.3 475.4H245.7M135.3 495H245.7" stroke="#000" stroke-width="1" stroke-dasharray="2.4 2.1" fill="none"/>
<clipPath id="lc6"><rect x="135.3" y="436.4" width="110.4" height="77.6"/></clipPath><g clip-path="url(#lc6)">
<circle cx="143.3" cy="505" r="2.5" fill="#ffffff"/>
<circle cx="150.4" cy="500" r="2.5" fill="#ffffff"/>
<circle cx="164.7" cy="499.3" r="2.5" fill="#ffffff"/>
<circle cx="170.4" cy="492.6" r="2.5" fill="#ffffff"/>
<circle cx="177.6" cy="492.6" r="2.5" fill="#ffffff"/>
<circle cx="184.7" cy="509.3" r="2.5" fill="#ffffff"/>
<circle cx="191.4" cy="500" r="2.5" fill="#ffffff"/>
<circle cx="198.6" cy="492.6" r="2.5" fill="#ffffff"/>
<circle cx="204.6" cy="492.1" r="2.5" fill="#ffffff"/>
<circle cx="211.4" cy="492.6" r="2.5" fill="#ffffff"/>
<circle cx="218.6" cy="509.3" r="2.5" fill="#ffffff"/>
<circle cx="225.7" cy="509.3" r="2.5" fill="#ffffff"/>
<circle cx="232.4" cy="509.3" r="2.5" fill="#ffffff"/>
<circle cx="239.3" cy="509.3" r="2.5" fill="#ffffff"/>
<circle cx="245" cy="500" r="2.5" fill="#ffffff"/>
<circle cx="137.1" cy="505" r="2.5" fill="#cccccc"/>
<circle cx="170.4" cy="488.9" r="2.5" fill="#cccccc"/>
<circle cx="191.4" cy="492.1" r="2.5" fill="#cccccc"/>
<circle cx="198.6" cy="488.9" r="2.5" fill="#cccccc"/>
<circle cx="211.4" cy="488.9" r="2.5" fill="#cccccc"/>
<circle cx="218.6" cy="500" r="2.5" fill="#cccccc"/>
<circle cx="225.7" cy="500" r="2.5" fill="#cccccc"/>
<circle cx="239.3" cy="500" r="2.5" fill="#cccccc"/>
<circle cx="143.3" cy="500" r="2.5" fill="#999999"/>
<circle cx="177.6" cy="488.9" r="2.5" fill="#999999"/>
<circle cx="198.6" cy="485" r="2.5" fill="#999999"/>
<circle cx="211.4" cy="481.1" r="2.5" fill="#999999"/>
<circle cx="211.4" cy="485" r="2.5" fill="#999999"/>
<circle cx="184.7" cy="503.6" r="2.5" fill="#999999"/>
<circle cx="218.6" cy="492.1" r="2.5" fill="#999999"/>
<circle cx="232.4" cy="500" r="2.5" fill="#999999"/>
<circle cx="239.3" cy="494" r="2.5" fill="#999999"/>
<circle cx="245" cy="481.1" r="2.5" fill="#999999"/>
<circle cx="143.3" cy="481.1" r="2.5" fill="#555555"/>
<circle cx="150.4" cy="492.1" r="2.5" fill="#555555"/>
<circle cx="157.6" cy="492.1" r="2.5" fill="#555555"/>
<circle cx="164.7" cy="492.1" r="2.5" fill="#555555"/>
<circle cx="184.7" cy="500" r="2.5" fill="#555555"/>
<circle cx="191.4" cy="488.9" r="2.5" fill="#555555"/>
<circle cx="198.6" cy="467.9" r="2.5" fill="#555555"/>
<circle cx="218.6" cy="488.9" r="2.5" fill="#555555"/>
<circle cx="225.7" cy="492.1" r="2.5" fill="#555555"/>
<circle cx="232.4" cy="494" r="2.5" fill="#555555"/>
<circle cx="191.4" cy="456.4" r="2.5" fill="#000000"/>
<circle cx="198.6" cy="464.3" r="2.5" fill="#000000"/>
<circle cx="204.6" cy="467.9" r="2.5" fill="#000000"/>
<circle cx="211.4" cy="470" r="2.5" fill="#000000"/>
<circle cx="218.6" cy="481.1" r="2.5" fill="#000000"/>
<circle cx="225.7" cy="485" r="2.5" fill="#000000"/>
<circle cx="232.4" cy="488.9" r="2.5" fill="#000000"/>
<circle cx="239.3" cy="481.1" r="2.5" fill="#000000"/>
<circle cx="245" cy="476.4" r="2.5" fill="#000000"/>
<circle cx="184.7" cy="488.9" r="2.5" fill="#000000"/>
<circle cx="137.1" cy="475.4" r="2.5" fill="#b22222"/>
<circle cx="143.3" cy="475.4" r="2.5" fill="#b22222"/>
<circle cx="150.4" cy="458.6" r="2.5" fill="#b22222"/>
<circle cx="157.6" cy="458.6" r="2.5" fill="#b22222"/>
<circle cx="164.7" cy="460" r="2.5" fill="#b22222"/>
<circle cx="170.4" cy="451.4" r="2.5" fill="#b22222"/>
<circle cx="177.6" cy="449.3" r="2.5" fill="#b22222"/>
<circle cx="184.7" cy="449.3" r="2.5" fill="#b22222"/>
<circle cx="191.4" cy="449.3" r="2.5" fill="#b22222"/>
<circle cx="198.6" cy="451.4" r="2.5" fill="#b22222"/>
<circle cx="204.6" cy="449.3" r="2.5" fill="#b22222"/>
<circle cx="211.4" cy="449.3" r="2.5" fill="#b22222"/>
<circle cx="218.6" cy="449.3" r="2.5" fill="#b22222"/>
<circle cx="225.7" cy="449.3" r="2.5" fill="#b22222"/>
<circle cx="232.4" cy="449.3" r="2.5" fill="#b22222"/>
<circle cx="239.3" cy="449.3" r="2.5" fill="#b22222"/>
<circle cx="245" cy="449.3" r="2.5" fill="#b22222"/>
<polyline points="135.3,471.1 143.3,470.7 150.4,465.7 157.6,464 164.7,463.6 178.6,463.6 184.7,466.9 191.4,469.3 198.6,471.4 204.6,471.4 211.4,472.6 218.6,474.6 225,474.6 233.6,473.6 239.3,471.4 245.7,470.3" fill="none" stroke="#ff9900" stroke-width="2.2" stroke-linejoin="round"/>
</g>
<rect x="135.3" y="436.4" width="110.4" height="77.6" fill="none" stroke="#000" stroke-width="1.1"/>
<rect x="135.3" y="523.4" width="110.4" height="77.5" fill="#87d7ff"/>
<rect x="170.2" y="523.4" width="61.8" height="77.5" fill="#7dc1ec"/>
<clipPath id="lc7"><rect x="135.3" y="523.4" width="110.4" height="77.5"/></clipPath><g clip-path="url(#lc7)">
<polygon points="135.3,600.9 135.3,589.4 143.6,596.6 153.6,600.1 163.6,600.6 165.7,589.4 170.7,578 177.9,565.9 185,560.9 190,548.7 196.4,544.4 205,542.3 210.7,528 216.4,524.4 232.1,524.4 239.3,536.6 245.7,544.4 245.7,600.9" fill="#ffffff"/>
<polygon points="184.7,600.9 184.7,600.9 192.1,574.4 195,550.9 197.9,530.9 204.6,533 207.9,536.6 210.7,528.7 216.4,524.7 232.1,523.7 245.7,523.7 245.7,600.9" fill="#999999"/>
<polygon points="135.3,600.9 135.3,576.6 143.3,563 150.4,576.6 157.6,583 164.7,585.1 166.4,589.4 170.7,590.9 177.1,593 184.7,568.7 191.4,568.7 197.9,583.7 204.3,595.9 210.7,578 216.4,560.9 219.3,546.6 225,535.1 233.6,539.4 239.3,552.3 245.7,566.6 245.7,600.9" fill="#555555"/>
<polygon points="139.3,600.9 139.3,600.9 149.3,590.9 157.9,595.1 164.3,600.9 164.3,600.9" fill="#2e2c28"/>
<polyline points="184.7,600.9 192.1,574.4 195,550.9 197.9,530.9 204.6,533 207.9,536.6 210.7,528.7 216.4,524.7 232.1,523.7 245.7,523.7" fill="none" stroke="#aaaaaa" stroke-width="0.8"/>
<polyline points="135.3,589.4 143.6,596.6 153.6,600.1 163.6,600.6 165.7,589.4 170.7,578 177.9,565.9 185,560.9 190,548.7 196.4,544.4 205,542.3 210.7,528 216.4,524.4 232.1,524.4 239.3,536.6 245.7,544.4" fill="none" stroke="#ffffff" stroke-width="0.9"/>
</g>
<rect x="217.1" y="590.2" width="3" height="10.7" fill="#ffb400"/>
<rect x="224.2" y="590.2" width="3" height="10.7" fill="#ffb400"/>
<rect x="230.9" y="590.2" width="3" height="10.7" fill="#ffb400"/>
<rect x="237.8" y="590.2" width="3" height="10.7" fill="#ffb400"/>
<path d="M142.3 523.4V600.9M163.4 523.4V600.9M184.5 523.4V600.9M205.6 523.4V600.9M226.7 523.4V600.9M135.3 543.4H245.7M135.3 562.6H245.7M135.3 582.3H245.7" stroke="#000" stroke-width="1" stroke-dasharray="2.4 2.1" fill="none"/>
<rect x="135.3" y="523.4" width="110.4" height="77.5" fill="none" stroke="#000" stroke-width="1.1"/>
<polyline points="68.5,16.3 133,16.3 156.5,46" fill="none" stroke="#000" stroke-width="1"/>
<polyline points="102,44.3 119.5,44.3 150,84.2" fill="none" stroke="#a02020" stroke-width="1"/>
<polyline points="92.2,76.4 115,76.4" fill="none" stroke="#ff0000" stroke-width="1"/>
<polyline points="130,76.6 132.5,76.6 158.3,103.3" fill="none" stroke="#ff0000" stroke-width="1"/>
<polyline points="70,99.7 131.7,99.7 136.7,102.5" fill="none" stroke="#0000ff" stroke-width="1"/>
<polyline points="95,121 131.7,121 141.7,112.5" fill="none" stroke="#6a5acd" stroke-width="1"/>
<polyline points="103.3,137.7 141,137.7 146.4,147" fill="none" stroke="#ff0000" stroke-width="1"/>
<polyline points="106.7,151.3 111.3,151.3" fill="none" stroke="#e8501a" stroke-width="1"/>
<polyline points="130,151.6 146.4,160.9" fill="none" stroke="#e8501a" stroke-width="1"/>
<polyline points="94.2,165.7 113.3,165.7" fill="none" stroke="#000" stroke-width="1"/>
<polyline points="129.3,165.9 136.4,170.9" fill="none" stroke="#000" stroke-width="1"/>
<polyline points="71.3,179.4 139.3,179.4" fill="none" stroke="#0aa00a" stroke-width="1"/>
<polyline points="80.5,190.9 136,190.9" fill="none" stroke="#0aa00a" stroke-width="1"/>
<polyline points="70,202.6 111.7,202.6" fill="none" stroke="#1030c8" stroke-width="1"/>
<polyline points="129.3,202.6 160.4,174.4" fill="none" stroke="#1030c8" stroke-width="1"/>
<polyline points="81.2,213 131.4,213 157.1,188" fill="none" stroke="#1030c8" stroke-width="1"/>
<polyline points="97.2,225.2 143.6,225.2 147.1,219.9" fill="none" stroke="#ff0000" stroke-width="1"/>
<polyline points="50.8,264.2 131.4,264 135.3,261.9" fill="none" stroke="#000" stroke-width="1"/>
<polyline points="112.5,334.5 116.7,334.5" fill="none" stroke="#ff0000" stroke-width="1"/>
<polyline points="130.4,334.6 134,328 138.6,316.9" fill="none" stroke="#ff0000" stroke-width="1"/>
<polyline points="107.5,348.5 131.4,348.3 143.3,340.3" fill="none" stroke="#ff0000" stroke-width="1"/>
<polyline points="92.2,367.6 135.3,367.6" fill="none" stroke="#000090" stroke-width="1"/>
<polyline points="86.3,410.4 140.7,410.4" fill="none" stroke="#000090" stroke-width="1"/>
<polyline points="100,430.3 131.7,430.3 184.7,447.9" fill="none" stroke="#a02020" stroke-width="1"/>
<polyline points="57.2,468.2 125,468.9 135.3,467.4 187.9,456.4" fill="none" stroke="#000" stroke-width="1"/>
<polyline points="57.2,480.4 143.3,481" fill="none" stroke="#555" stroke-width="1"/>
<polyline points="57.2,490.6 131.4,490.7 143.3,500" fill="none" stroke="#999" stroke-width="1"/>
<polyline points="57.2,500.3 131.4,500 137.1,505" fill="none" stroke="#d0ccc4" stroke-width="1"/>
<polyline points="56.7,510.8 136,510.8" fill="none" stroke="#87d7ff" stroke-width="3"/>
<polyline points="56.7,510.8 136,510.8" fill="none" stroke="#fff" stroke-width="1"/>
<polyline points="67.2,527.2 129.2,527.2 135.3,519.3 174.3,464" fill="none" stroke="#ff8000" stroke-width="1"/>
<polyline points="54.2,557.6 186.4,557.6" fill="none" stroke="#87d7ff" stroke-width="3"/>
<polyline points="54.2,557.6 186.4,557.6" fill="none" stroke="#fff" stroke-width="1"/>
<polyline points="49.2,571.5 192.1,571.5" fill="none" stroke="#888" stroke-width="1"/>
<polyline points="40.5,582.2 121.7,582.2" fill="none" stroke="#444" stroke-width="1"/>
<polyline points="130.8,582.2 143,582.2" fill="none" stroke="#444" stroke-width="1"/>
<polyline points="74.2,594.6 146.4,594.4" fill="none" stroke="#222" stroke-width="1"/>
<polyline points="30.2,605.3 216.4,605.3 218.6,600.9" fill="none" stroke="#ffb400" stroke-width="1.2"/>
<polyline points="139.8,623 148.6,623 157.4,610.8" fill="none" stroke="#000" stroke-width="1"/>
<text x="5.8" y="17.8" font-size="10.6" fill="#000" stroke="#000" stroke-width="0.25" text-anchor="start" textLength="58.6" lengthAdjust="spacing" xml:space="preserve">Czas lokalny</text>
<text x="5.8" y="29.7" font-size="10.6" fill="#000" stroke="#000" stroke-width="0.25" text-anchor="start" textLength="54.6" lengthAdjust="spacing" xml:space="preserve">(CET/CEST)</text>
<text x="6.3" y="45.3" font-size="10.6" fill="#a02020" stroke="#a02020" stroke-width="0.25" text-anchor="start" textLength="93.3" lengthAdjust="spacing" xml:space="preserve">Temperatura gruntu</text>
<text x="27.5" y="55" font-size="10.6" fill="#a02020" stroke="#a02020" stroke-width="0.25" text-anchor="start" textLength="38.8" lengthAdjust="spacing" xml:space="preserve">max/min</text>
<text x="5.8" y="67.5" font-size="10.6" fill="#000" stroke="#000" stroke-width="0.25" text-anchor="start" textLength="61.8" lengthAdjust="spacing" xml:space="preserve">Temperatura:</text>
<text x="13" y="79.2" font-size="10.6" fill="#ff0000" stroke="#ff0000" stroke-width="0.25" text-anchor="start" textLength="77" lengthAdjust="spacing" xml:space="preserve">punkt środkowy</text>
<text x="27.5" y="89.2" font-size="10.6" fill="#ffd2c4" stroke="#ffd2c4" stroke-width="0.25" text-anchor="start" textLength="38.8" lengthAdjust="spacing" xml:space="preserve">max/min</text>
<text x="10" y="101.2" font-size="10.6" fill="#0000ff" stroke="#0000ff" stroke-width="0.25" text-anchor="start" textLength="57.2" lengthAdjust="spacing" xml:space="preserve">odczuwana</text>
<text x="27.5" y="111.3" font-size="10.6" fill="#a8dcff" stroke="#a8dcff" stroke-width="0.25" text-anchor="start" textLength="38.8" lengthAdjust="spacing" xml:space="preserve">max/min</text>
<text x="6.3" y="123.3" font-size="10.6" fill="#6a5acd" stroke="#6a5acd" stroke-width="0.25" text-anchor="start" textLength="86.2" lengthAdjust="spacing" xml:space="preserve">Temp. punktu rosy</text>
<text x="6.3" y="140.8" font-size="10.6" fill="#ff0000" stroke="#ff0000" stroke-width="0.25" text-anchor="start" textLength="94.2" lengthAdjust="spacing" xml:space="preserve">Opad powyżej skali</text>
<text x="6.3" y="154.2" font-size="10.6" fill="#e8501a" stroke="#e8501a" stroke-width="0.25" text-anchor="start" textLength="96.8" lengthAdjust="spacing" xml:space="preserve">Wilgotność względna</text>
<text x="6.3" y="168.7" font-size="10.6" fill="#000" stroke="#000" stroke-width="0.25" text-anchor="start" textLength="85" lengthAdjust="spacing" xml:space="preserve">Wystąpienie burzy</text>
<text x="6.3" y="182.5" font-size="10.6" fill="#0aa00a" stroke="#0aa00a" stroke-width="0.25" text-anchor="start" textLength="62.4" lengthAdjust="spacing" xml:space="preserve">Deszcz: max</text>
<text x="49.2" y="193.3" font-size="10.6" fill="#0aa00a" stroke="#0aa00a" stroke-width="0.25" text-anchor="start" textLength="29.1" lengthAdjust="spacing" xml:space="preserve">średni</text>
<text x="6.3" y="205" font-size="10.6" fill="#1030c8" stroke="#1030c8" stroke-width="0.25" text-anchor="start" textLength="29" lengthAdjust="spacing" xml:space="preserve">Śnieg:</text>
<text x="49.2" y="205" font-size="10.6" fill="#1030c8" stroke="#1030c8" stroke-width="0.25" text-anchor="start" textLength="18.8" lengthAdjust="spacing" xml:space="preserve">max</text>
<text x="49.2" y="215.5" font-size="10.6" fill="#1030c8" stroke="#1030c8" stroke-width="0.25" text-anchor="start" textLength="29.1" lengthAdjust="spacing" xml:space="preserve">średni</text>
<text x="5.8" y="227.5" font-size="10.6" fill="#ff0000" stroke="#ff0000" stroke-width="0.25" text-anchor="start" textLength="88.4" lengthAdjust="spacing" xml:space="preserve">Wystąpienie opadu</text>
<text x="5.8" y="240" font-size="10.6" fill="#ff0000" stroke="#ff0000" stroke-width="0.25" text-anchor="start" textLength="71.2" lengthAdjust="spacing" xml:space="preserve">konwekcyjnego</text>
<text x="5" y="266.3" font-size="10.6" fill="#000" stroke="#000" stroke-width="0.25" text-anchor="start" textLength="42.2" lengthAdjust="spacing" xml:space="preserve">Ciśnienie</text>
<text x="5" y="279.2" font-size="10.6" fill="#000" stroke="#000" stroke-width="0.25" text-anchor="start" textLength="66.3" lengthAdjust="spacing" xml:space="preserve">zredukowane</text>
<text x="5" y="292.2" font-size="10.6" fill="#000" stroke="#000" stroke-width="0.25" text-anchor="start" textLength="87.2" lengthAdjust="spacing" xml:space="preserve">do poziomu morza</text>
<text x="5.5" y="321.3" font-size="10.6" fill="#000" stroke="#000" stroke-width="0.25" text-anchor="start" textLength="41.5" lengthAdjust="spacing" xml:space="preserve">Wiatr na </text>
<text x="47.5" y="321.3" font-size="10.6" font-family="'Liberation Serif',serif" textLength="11" lengthAdjust="spacing">10</text>
<text x="58.7" y="321.3" font-size="10.6" fill="#000" stroke="#000" stroke-width="0.25" text-anchor="start" textLength="12.6" lengthAdjust="spacing" xml:space="preserve">m:</text>
<text x="10" y="337.5" font-size="10.6" fill="#ff0000" stroke="#ff0000" stroke-width="0.25" text-anchor="start" textLength="100.3" lengthAdjust="spacing" xml:space="preserve">poryw powyżej skali</text>
<text x="10" y="351.3" font-size="10.6" fill="#ff0000" stroke="#ff0000" stroke-width="0.25" text-anchor="start" textLength="94.2" lengthAdjust="spacing" xml:space="preserve">max porywy wiatru</text>
<text x="10" y="371.3" font-size="10.6" fill="#000099" stroke="#000099" stroke-width="0.25" text-anchor="start" textLength="77.8" lengthAdjust="spacing" xml:space="preserve">prędkość wiatru</text>
<text x="10" y="384.2" font-size="10.6" fill="#000099" stroke="#000099" stroke-width="0.25" text-anchor="start" textLength="88.3" lengthAdjust="spacing" xml:space="preserve">w środku obszaru</text>
<text x="10" y="412.5" font-size="10.6" fill="#000099" stroke="#000099" stroke-width="0.25" text-anchor="start" textLength="73" lengthAdjust="spacing" xml:space="preserve">kierunek wiatru</text>
<text x="6.3" y="432.5" font-size="10.6" fill="#a52020" stroke="#a52020" stroke-width="0.25" text-anchor="start" textLength="90" lengthAdjust="spacing" xml:space="preserve">Wierzchołek chmur</text>
<text x="5.8" y="447.5" font-size="10.6" fill="#000" stroke="#000" stroke-width="0.25" text-anchor="start" textLength="85" lengthAdjust="spacing" xml:space="preserve">Podstawa chmur*</text>
<text x="5.8" y="458.7" font-size="10.6" fill="#000" stroke="#000" stroke-width="0.25" text-anchor="start" textLength="47.5" lengthAdjust="spacing" xml:space="preserve">o pokryciu</text>
<text x="10.8" y="471.3" font-size="10.6" fill="#000" stroke="#000" stroke-width="0.25" text-anchor="start" textLength="43.4" lengthAdjust="spacing" xml:space="preserve">> 7.9 okt.</text>
<text x="10.8" y="482.5" font-size="10.6" fill="#555" stroke="#555" stroke-width="0.25" text-anchor="start" textLength="43.4" lengthAdjust="spacing" xml:space="preserve">> 6.5 okt.</text>
<text x="10.8" y="493.3" font-size="10.6" fill="#999" stroke="#999" stroke-width="0.25" text-anchor="start" textLength="43.4" lengthAdjust="spacing" xml:space="preserve">> 4.5 okt.</text>
<text x="10.8" y="503.3" font-size="10.6" fill="#d0ccc4" stroke="#d0ccc4" stroke-width="0.25" text-anchor="start" textLength="43.4" lengthAdjust="spacing" xml:space="preserve">> 2.5 okt.</text>
<rect x="10.8" y="505.3" width="44.2" height="11.4" fill="#87d7ff"/>
<text x="10.8" y="514.7" font-size="10.6" fill="#fff" stroke="#fff" stroke-width="0.25" text-anchor="start" textLength="43.4" lengthAdjust="spacing" xml:space="preserve">> 0.1 okt.</text>
<text x="6.3" y="529.2" font-size="10.6" fill="#ff7f00" stroke="#ff7f00" stroke-width="0.25" text-anchor="start" textLength="56.7" lengthAdjust="spacing" xml:space="preserve">Widzialność</text>
<text x="5.8" y="546.7" font-size="10.6" fill="#000" stroke="#000" stroke-width="0.25" text-anchor="start" textLength="38.4" lengthAdjust="spacing" xml:space="preserve">Chmury:</text>
<rect x="10" y="551.3" width="40.8" height="11.2" fill="#87d7ff"/>
<text x="11" y="559.7" font-size="10.6" fill="#fff" stroke="#fff" stroke-width="0.25" text-anchor="start" textLength="39" lengthAdjust="spacing" xml:space="preserve">wysokie</text>
<text x="10" y="572.5" font-size="10.6" fill="#999" stroke="#999" stroke-width="0.25" text-anchor="start" textLength="35" lengthAdjust="spacing" xml:space="preserve">średnie</text>
<text x="10" y="584.2" font-size="10.6" fill="#444" stroke="#444" stroke-width="0.25" text-anchor="start" textLength="25.8" lengthAdjust="spacing" xml:space="preserve">niskie</text>
<text x="10" y="596.3" font-size="10.6" fill="#222" stroke="#222" stroke-width="0.25" text-anchor="start" textLength="60.8" lengthAdjust="spacing" xml:space="preserve">bardzo niskie</text>
<text x="6.2" y="608.5" font-size="10.6" fill="#ffb400" stroke="#ffb400" stroke-width="0.25" text-anchor="start" textLength="19.8" lengthAdjust="spacing" xml:space="preserve">Mgła</text>
<text x="6.2" y="626" font-size="11" fill="#000" stroke="#000" stroke-width="0.25" text-anchor="start" textLength="130.9" lengthAdjust="spacing" xml:space="preserve">Czas uniwersalny (UTC)</text>
<text x="5.3" y="651.2" font-size="9.3" fill="#000" stroke="#000" stroke-width="0.25" text-anchor="start" textLength="102.8" lengthAdjust="spacing" font-weight="bold" xml:space="preserve">* powyżej poziomu morza</text>
<text x="128.6" y="63.1" font-size="10.6" fill="#000" stroke="#000" stroke-width="0.25" text-anchor="end" xml:space="preserve">30</text>
<text x="266.1" y="63.2" font-size="10.6" fill="#000" stroke="#000" stroke-width="0.25" text-anchor="end" xml:space="preserve">30</text>
<text x="128.6" y="81.3" font-size="10.6" fill="#000" stroke="#000" stroke-width="0.25" text-anchor="end" xml:space="preserve">20</text>
<text x="266.1" y="81.4" font-size="10.6" fill="#000" stroke="#000" stroke-width="0.25" text-anchor="end" xml:space="preserve">20</text>
<text x="128.6" y="98" font-size="10.6" fill="#000" stroke="#000" stroke-width="0.25" text-anchor="end" xml:space="preserve">10</text>
<text x="266.1" y="98.1" font-size="10.6" fill="#000" stroke="#000" stroke-width="0.25" text-anchor="end" xml:space="preserve">10</text>
<text x="128.6" y="115.1" font-size="10.6" fill="#000" stroke="#000" stroke-width="0.25" text-anchor="end" xml:space="preserve">0</text>
<text x="266.1" y="115.2" font-size="10.6" fill="#000" stroke="#000" stroke-width="0.25" text-anchor="end" xml:space="preserve">0</text>
<text x="128.6" y="133.3" font-size="10.6" fill="#000" stroke="#000" stroke-width="0.25" text-anchor="end" xml:space="preserve">-10</text>
<text x="266.1" y="133.4" font-size="10.6" fill="#000" stroke="#000" stroke-width="0.25" text-anchor="end" xml:space="preserve">-10</text>
<text x="128.6" y="154.2" font-size="10.6" fill="#000" stroke="#000" stroke-width="0.25" text-anchor="end" xml:space="preserve">2.0</text>
<text x="253.6" y="154.1" font-size="10.6" fill="#e8501a" stroke="#e8501a" stroke-width="0.25" text-anchor="start" xml:space="preserve">96</text>
<text x="128.6" y="172.4" font-size="10.6" fill="#000" stroke="#000" stroke-width="0.25" text-anchor="end" xml:space="preserve">1.5</text>
<text x="253.6" y="172.3" font-size="10.6" fill="#e8501a" stroke="#e8501a" stroke-width="0.25" text-anchor="start" xml:space="preserve">84</text>
<text x="128.6" y="189.5" font-size="10.6" fill="#000" stroke="#000" stroke-width="0.25" text-anchor="end" xml:space="preserve">1.0</text>
<text x="253.6" y="189.4" font-size="10.6" fill="#e8501a" stroke="#e8501a" stroke-width="0.25" text-anchor="start" xml:space="preserve">73</text>
<text x="128.6" y="206.9" font-size="10.6" fill="#000" stroke="#000" stroke-width="0.25" text-anchor="end" xml:space="preserve">0.5</text>
<text x="253.6" y="206.8" font-size="10.6" fill="#e8501a" stroke="#e8501a" stroke-width="0.25" text-anchor="start" xml:space="preserve">61</text>
<text x="128.6" y="224" font-size="10.6" fill="#000" stroke="#000" stroke-width="0.25" text-anchor="end" xml:space="preserve">0.0</text>
<text x="253.6" y="223.9" font-size="10.6" fill="#e8501a" stroke="#e8501a" stroke-width="0.25" text-anchor="start" xml:space="preserve">50</text>
<text x="128.6" y="234.9" font-size="10.6" fill="#000" stroke="#000" stroke-width="0.25" text-anchor="end" xml:space="preserve">1018</text>
<text x="251.2" y="234.8" font-size="10.6" fill="#000" stroke="#000" stroke-width="0.25" text-anchor="start" textLength="22.4" lengthAdjust="spacing" xml:space="preserve">1018</text>
<text x="128.6" y="258.2" font-size="10.6" fill="#000" stroke="#000" stroke-width="0.25" text-anchor="end" xml:space="preserve">1016</text>
<text x="251.2" y="258.1" font-size="10.6" fill="#000" stroke="#000" stroke-width="0.25" text-anchor="start" textLength="22.4" lengthAdjust="spacing" xml:space="preserve">1016</text>
<text x="128.6" y="282" font-size="10.6" fill="#000" stroke="#000" stroke-width="0.25" text-anchor="end" xml:space="preserve">1014</text>
<text x="251.2" y="281.9" font-size="10.6" fill="#000" stroke="#000" stroke-width="0.25" text-anchor="start" textLength="22.4" lengthAdjust="spacing" xml:space="preserve">1014</text>
<text x="128.6" y="304.9" font-size="10.6" fill="#000" stroke="#000" stroke-width="0.25" text-anchor="end" xml:space="preserve">1012</text>
<text x="251.2" y="304.8" font-size="10.6" fill="#000" stroke="#000" stroke-width="0.25" text-anchor="start" textLength="22.4" lengthAdjust="spacing" xml:space="preserve">1012</text>
<text x="128.6" y="319" font-size="10.6" fill="#000" stroke="#000" stroke-width="0.25" text-anchor="end" xml:space="preserve">20</text>
<text x="256.7" y="318.9" font-size="10.6" fill="#000" stroke="#000" stroke-width="0.25" text-anchor="middle" xml:space="preserve">72</text>
<text x="128.6" y="337.7" font-size="10.6" fill="#000" stroke="#000" stroke-width="0.25" text-anchor="end" xml:space="preserve">15</text>
<text x="256.7" y="337.6" font-size="10.6" fill="#000" stroke="#000" stroke-width="0.25" text-anchor="middle" xml:space="preserve">54</text>
<text x="128.6" y="358.2" font-size="10.6" fill="#000" stroke="#000" stroke-width="0.25" text-anchor="end" xml:space="preserve">10</text>
<text x="256.7" y="358.1" font-size="10.6" fill="#000" stroke="#000" stroke-width="0.25" text-anchor="middle" xml:space="preserve">36</text>
<text x="128.6" y="376.5" font-size="10.6" fill="#000" stroke="#000" stroke-width="0.25" text-anchor="end" xml:space="preserve">5</text>
<text x="256.7" y="376.4" font-size="10.6" fill="#000" stroke="#000" stroke-width="0.25" text-anchor="middle" xml:space="preserve">18</text>
<text x="128.6" y="395.7" font-size="10.6" fill="#000" stroke="#000" stroke-width="0.25" text-anchor="end" xml:space="preserve">0</text>
<text x="256.7" y="395.6" font-size="10.6" fill="#000" stroke="#000" stroke-width="0.25" text-anchor="middle" xml:space="preserve">0</text>
<text x="128.6" y="440.4" font-size="10.6" fill="#000" stroke="#000" stroke-width="0.25" text-anchor="end" xml:space="preserve">15.0</text>
<text x="252" y="440.3" font-size="10.6" fill="#ff8000" stroke="#ff8000" stroke-width="0.25" text-anchor="start" xml:space="preserve">100</text>
<text x="128.6" y="460.4" font-size="10.6" fill="#000" stroke="#000" stroke-width="0.25" text-anchor="end" xml:space="preserve">7.0</text>
<text x="252" y="460.3" font-size="10.6" fill="#ff8000" stroke="#ff8000" stroke-width="0.25" text-anchor="start" xml:space="preserve">20</text>
<text x="128.6" y="479" font-size="10.6" fill="#000" stroke="#000" stroke-width="0.25" text-anchor="end" xml:space="preserve">2.0</text>
<text x="252" y="478.9" font-size="10.6" fill="#ff8000" stroke="#ff8000" stroke-width="0.25" text-anchor="start" xml:space="preserve">5</text>
<text x="128.6" y="499" font-size="10.6" fill="#000" stroke="#000" stroke-width="0.25" text-anchor="end" xml:space="preserve">0.5</text>
<text x="252" y="498.9" font-size="10.6" fill="#ff8000" stroke="#ff8000" stroke-width="0.25" text-anchor="start" xml:space="preserve">1</text>
<text x="128.6" y="517.9" font-size="10.6" fill="#000" stroke="#000" stroke-width="0.25" text-anchor="end" xml:space="preserve">0.0</text>
<text x="252" y="517.8" font-size="10.6" fill="#ff8000" stroke="#ff8000" stroke-width="0.25" text-anchor="start" xml:space="preserve">0</text>
<text x="128.6" y="526.5" font-size="10.6" fill="#000" stroke="#000" stroke-width="0.25" text-anchor="end" xml:space="preserve">8</text>
<text x="252" y="526.4" font-size="10.6" fill="#ff8000" stroke="#ff8000" stroke-width="0.25" text-anchor="start" xml:space="preserve">1</text>
<text x="128.6" y="546.9" font-size="10.6" fill="#000" stroke="#000" stroke-width="0.25" text-anchor="end" xml:space="preserve">6</text>
<text x="252" y="546.8" font-size="10.6" fill="#ff8000" stroke="#ff8000" stroke-width="0.25" text-anchor="start" xml:space="preserve">0.75</text>
<text x="128.6" y="566" font-size="10.6" fill="#000" stroke="#000" stroke-width="0.25" text-anchor="end" xml:space="preserve">4</text>
<text x="252" y="565.9" font-size="10.6" fill="#ff8000" stroke="#ff8000" stroke-width="0.25" text-anchor="start" xml:space="preserve">0.5</text>
<text x="128.6" y="585.7" font-size="10.6" fill="#000" stroke="#000" stroke-width="0.25" text-anchor="end" xml:space="preserve">2</text>
<text x="252" y="585.6" font-size="10.6" fill="#ff8000" stroke="#ff8000" stroke-width="0.25" text-anchor="start" xml:space="preserve">0.25</text>
<text x="128.6" y="605" font-size="10.6" fill="#000" stroke="#000" stroke-width="0.25" text-anchor="end" xml:space="preserve">0</text>
<text x="252" y="604.9" font-size="10.6" fill="#ff8000" stroke="#ff8000" stroke-width="0.25" text-anchor="start" xml:space="preserve">0</text>
<text x="164" y="52" font-size="11" fill="#000" stroke="#000" stroke-width="0.25" text-anchor="middle" xml:space="preserve">20</text>
<text x="164" y="614.6" font-size="11" fill="#000" stroke="#000" stroke-width="0.25" text-anchor="middle" xml:space="preserve">18</text>
<text x="204.3" y="52" font-size="11" fill="#000" stroke="#000" stroke-width="0.25" text-anchor="middle" xml:space="preserve">02</text>
<text x="204.3" y="614.6" font-size="11" fill="#000" stroke="#000" stroke-width="0.25" text-anchor="middle" xml:space="preserve">00</text>
<text x="244.4" y="52" font-size="11" fill="#000" stroke="#000" stroke-width="0.25" text-anchor="middle" xml:space="preserve">08</text>
<text x="244.4" y="614.6" font-size="11" fill="#000" stroke="#000" stroke-width="0.25" text-anchor="middle" xml:space="preserve">06</text>
</svg>
</body></html>
